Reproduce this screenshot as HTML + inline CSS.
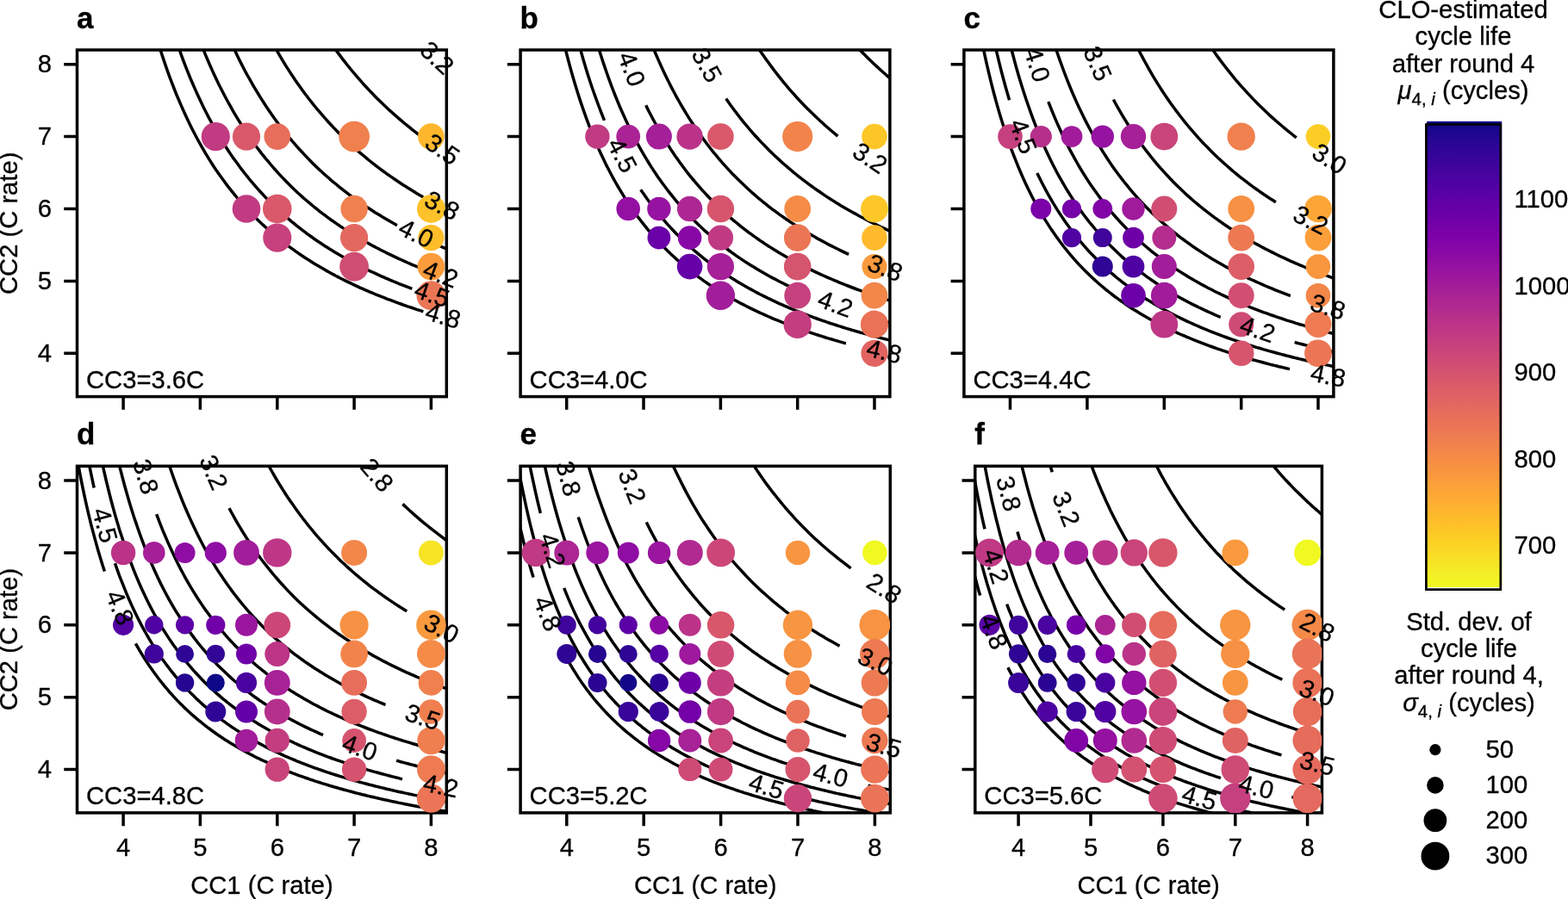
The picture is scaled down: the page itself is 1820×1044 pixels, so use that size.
<!DOCTYPE html>
<html lang="en"><head><meta charset="utf-8"><title>CLO-estimated cycle life after round 4</title>
<style>html,body{margin:0;padding:0;background:#fff}body{width:1820px;height:1044px;overflow:hidden}svg{display:block}text{font-family:"Liberation Sans",Arial,Helvetica,sans-serif;fill:#000;stroke:#000;stroke-width:.3px}.t{font-size:29.2px}.b{font-size:35px;font-weight:bold}.c{font-size:29.2px;text-anchor:middle}.l{fill:none;stroke:#000;stroke-width:3.5}.m{text-anchor:middle}.e{text-anchor:end}</style></head><body>
<svg width="1820" height="1044" viewBox="0 0 1820 1044">
<rect width="1820" height="1044" fill="#fff"/>
<defs><linearGradient id="pl" x1="0" y1="0" x2="0" y2="1"><stop offset="0" stop-color="#0d0887"/><stop offset="0.0312" stop-color="#220690"/><stop offset="0.0625" stop-color="#310597"/><stop offset="0.0938" stop-color="#3f049c"/><stop offset="0.125" stop-color="#4c02a1"/><stop offset="0.1562" stop-color="#5901a5"/><stop offset="0.1875" stop-color="#6600a7"/><stop offset="0.2188" stop-color="#7201a8"/><stop offset="0.25" stop-color="#7e03a8"/><stop offset="0.2812" stop-color="#8a09a5"/><stop offset="0.3125" stop-color="#9511a1"/><stop offset="0.3438" stop-color="#a01a9c"/><stop offset="0.375" stop-color="#aa2395"/><stop offset="0.4062" stop-color="#b32c8e"/><stop offset="0.4375" stop-color="#bc3587"/><stop offset="0.4688" stop-color="#c43e7f"/><stop offset="0.5" stop-color="#cc4778"/><stop offset="0.5312" stop-color="#d35171"/><stop offset="0.5625" stop-color="#da5a6a"/><stop offset="0.5938" stop-color="#e06363"/><stop offset="0.625" stop-color="#e66c5c"/><stop offset="0.6562" stop-color="#eb7655"/><stop offset="0.6875" stop-color="#f0804e"/><stop offset="0.7188" stop-color="#f58b47"/><stop offset="0.75" stop-color="#f89540"/><stop offset="0.7812" stop-color="#fba139"/><stop offset="0.8125" stop-color="#fdac33"/><stop offset="0.8438" stop-color="#feb82c"/><stop offset="0.875" stop-color="#fdc527"/><stop offset="0.9062" stop-color="#fcd225"/><stop offset="0.9375" stop-color="#f8df25"/><stop offset="0.9688" stop-color="#f4ed27"/><stop offset="1" stop-color="#f0f921"/></linearGradient>
<clipPath id="cpa"><rect x="89.5" y="58" width="428.8" height="402.6"/></clipPath>
<clipPath id="cpb"><rect x="604.1" y="58" width="428.8" height="402.6"/></clipPath>
<clipPath id="cpc"><rect x="1118.9" y="58" width="429" height="402.6"/></clipPath>
<clipPath id="cpd"><rect x="89.5" y="541.3" width="428.8" height="402.6"/></clipPath>
<clipPath id="cpe"><rect x="604.1" y="541.3" width="429.2" height="402.6"/></clipPath>
<clipPath id="cpf"><rect x="1131.8" y="541.3" width="402.6" height="402.6"/></clipPath>
</defs>
<g id="panel-a">
<path class="l" clip-path="url(#cpa)" d="M487.9,50.4 489.2,51.8M523.9,84.5 526.1,86.3M384.5,50.5 387.1,54.2 389.7,57.9 392.3,61.4 394.9,64.9 397.5,68.4 400.1,71.7 402.7,75.0 405.4,78.3 408.0,81.5 410.6,84.6 413.2,87.7 415.8,90.7 418.4,93.7 421.0,96.6 423.6,99.5 426.2,102.3 428.8,105.1 431.4,107.8 434.0,110.5 436.6,113.2 439.2,115.8 441.8,118.3 444.4,120.8 447.0,123.3 449.6,125.8 452.2,128.2 454.9,130.5 457.5,132.9 460.1,135.1 462.7,137.4 465.3,139.6 467.9,141.8 470.5,144.0 473.1,146.1 475.7,148.2 478.3,150.3 480.9,152.3 483.5,154.3 486.1,156.3 488.7,158.2 491.3,160.2 493.1,161.4M316.8,50.6 319.4,55.3 322.0,59.9 324.6,64.4 327.2,68.8 329.8,73.1 332.4,77.3 335.0,81.4 337.6,85.4 340.2,89.3 342.8,93.2 345.4,96.9 348.0,100.6 350.6,104.2 353.2,107.8 355.9,111.3 358.5,114.7 361.1,118.0 363.7,121.3 366.3,124.5 368.9,127.6 371.5,130.7 374.1,133.7 376.7,136.7 379.3,139.6 381.9,142.5 384.5,145.3 387.1,148.1 389.7,150.8 392.3,153.5 394.9,156.1 397.5,158.7 400.1,161.2 402.7,163.7 405.4,166.2 408.0,168.6 410.6,170.9 413.2,173.3 415.8,175.6 418.4,177.8 421.0,180.0 423.6,182.2 426.2,184.4 428.8,186.5 431.4,188.6 434.0,190.6 436.6,192.6 439.2,194.6 441.8,196.6 444.4,198.5 447.0,200.4 449.6,202.3 452.2,204.1 454.9,205.9 457.5,207.7 460.1,209.5 462.7,211.3 465.3,213.0 467.9,214.7 470.5,216.3 473.1,218.0 475.7,219.6 478.3,221.2 480.9,222.8 483.5,224.4 486.1,225.9 488.7,227.4 491.3,228.9M269.0,50.8 271.6,56.5 274.2,62.0 276.8,67.4 279.4,72.6 282.0,77.7 284.6,82.7 287.2,87.5 289.9,92.2 292.5,96.8 295.1,101.3 297.7,105.7 300.3,110.0 302.9,114.2 305.5,118.3 308.1,122.3 310.7,126.2 313.3,130.0 315.9,133.8 318.5,137.4 321.1,141.0 323.7,144.5 326.3,147.9 328.9,151.3 331.5,154.6 334.1,157.8 336.7,161.0 339.4,164.1 342.0,167.1 344.6,170.1 347.2,173.0 349.8,175.8 352.4,178.6 355.0,181.4 357.6,184.1 360.2,186.8 362.8,189.4 365.4,191.9 368.0,194.4 370.6,196.9 373.2,199.3 375.8,201.7 378.4,204.0 381.0,206.3 383.6,208.6 386.2,210.8 388.9,213.0 391.5,215.1 394.1,217.3 396.7,219.3 399.3,221.4 401.9,223.4 404.5,225.4 407.1,227.3 409.7,229.2 412.3,231.1 414.9,233.0 417.5,234.8 420.1,236.6 422.7,238.4 425.3,240.1 427.9,241.8 430.5,243.5 433.1,245.2 435.7,246.9 438.4,248.5 441.0,250.1 443.6,251.7 446.2,253.2 448.8,254.7 451.4,256.3 454.0,257.8 456.6,259.2 459.2,260.7 460.9,261.6M503.9,282.8 506.5,283.9 509.1,285.1 511.7,286.2 514.3,287.3 516.9,288.4 519.6,289.5 522.2,290.5 524.8,291.6 526.1,292.1M233.4,50.8 236.0,57.4 238.6,63.8 241.2,70.0 243.8,76.0 246.4,81.9 249.0,87.6 251.6,93.1 254.2,98.5 256.9,103.7 259.5,108.8 262.1,113.7 264.7,118.5 267.3,123.2 269.9,127.8 272.5,132.3 275.1,136.6 277.7,140.9 280.3,145.0 282.9,149.1 285.5,153.0 288.1,156.9 290.7,160.7 293.3,164.3 295.9,167.9 298.5,171.5 301.1,174.9 303.7,178.3 306.4,181.6 309.0,184.8 311.6,187.9 314.2,191.0 316.8,194.1 319.4,197.0 322.0,199.9 324.6,202.8 327.2,205.6 329.8,208.3 332.4,211.0 335.0,213.6 337.6,216.2 340.2,218.7 342.8,221.2 345.4,223.7 348.0,226.0 350.6,228.4 353.2,230.7 355.9,233.0 358.5,235.2 361.1,237.4 363.7,239.5 366.3,241.6 368.9,243.7 371.5,245.8 374.1,247.8 376.7,249.7 379.3,251.7 381.9,253.6 384.5,255.5 387.1,257.3 389.7,259.1 392.3,260.9 394.9,262.7 397.5,264.4 400.1,266.1 402.7,267.8 405.4,269.4 408.0,271.1 410.6,272.7 413.2,274.2 415.8,275.8 418.4,277.3 421.0,278.8 423.6,280.3 426.2,281.8 428.8,283.2 431.4,284.7 434.0,286.1 436.6,287.5 439.2,288.8 441.8,290.2 444.4,291.5 447.0,292.8 449.6,294.1 452.2,295.4 454.9,296.6 457.5,297.9 460.1,299.1 462.7,300.3 465.3,301.5 467.9,302.7 470.5,303.8 473.1,305.0 475.7,306.1 478.3,307.3 480.9,308.4 483.5,309.4 486.1,310.5 488.7,311.6M205.6,50.0 208.2,57.5 210.8,64.8 213.4,71.8 216.0,78.6 218.6,85.1 221.2,91.5 223.9,97.7 226.5,103.6 229.1,109.5 231.7,115.1 234.3,120.6 236.9,125.9 239.5,131.0 242.1,136.1 244.7,140.9 247.3,145.7 249.9,150.3 252.5,154.8 255.1,159.2 257.7,163.5 260.3,167.7 262.9,171.7 265.5,175.7 268.1,179.6 270.7,183.4 273.4,187.0 276.0,190.6 278.6,194.2 281.2,197.6 283.8,201.0 286.4,204.2 289.0,207.5 291.6,210.6 294.2,213.7 296.8,216.7 299.4,219.6 302.0,222.5 304.6,225.3 307.2,228.1 309.8,230.8 312.4,233.4 315.0,236.0 317.6,238.6 320.2,241.1 322.9,243.5 325.5,245.9 328.1,248.3 330.7,250.6 333.3,252.9 335.9,255.1 338.5,257.3 341.1,259.4 343.7,261.6 346.3,263.6 348.9,265.7 351.5,267.7 354.1,269.6 356.7,271.6 359.3,273.5 361.9,275.3 364.5,277.2 367.1,279.0 369.7,280.7 372.4,282.5 375.0,284.2 377.6,285.9 380.2,287.5 382.8,289.2 385.4,290.8 388.0,292.4 390.6,293.9 393.2,295.5 395.8,297.0 398.4,298.5 401.0,299.9 403.6,301.4 406.2,302.8 408.8,304.2 411.4,305.6 414.0,307.0 416.6,308.3 419.2,309.6 421.9,310.9 424.5,312.2 427.1,313.5 429.7,314.8 432.3,316.0 434.9,317.2 437.5,318.4 440.1,319.6 442.7,320.8 445.3,321.9 447.9,323.1 450.5,324.2 453.1,325.3 455.7,326.4 458.3,327.5 460.9,328.5 463.5,329.6 466.1,330.6 468.7,331.6 471.4,332.7 474.0,333.7 476.6,334.7 478.3,335.3M523.5,350.6 526.1,351.4M183.9,50.6 186.5,58.9 189.1,66.9 191.7,74.6 194.3,82.1 196.9,89.3 199.5,96.2 202.1,102.9 204.7,109.5 207.4,115.8 210.0,121.9 212.6,127.8 215.2,133.5 217.8,139.0 220.4,144.4 223.0,149.7 225.6,154.8 228.2,159.7 230.8,164.5 233.4,169.2 236.0,173.7 238.6,178.1 241.2,182.4 243.8,186.6 246.4,190.7 249.0,194.7 251.6,198.6 254.2,202.3 256.9,206.0 259.5,209.6 262.1,213.1 264.7,216.6 267.3,219.9 269.9,223.2 272.5,226.4 275.1,229.5 277.7,232.6 280.3,235.5 282.9,238.5 285.5,241.3 288.1,244.1 290.7,246.9 293.3,249.5 295.9,252.2 298.5,254.7 301.1,257.3 303.7,259.7 306.4,262.1 309.0,264.5 311.6,266.8 314.2,269.1 316.8,271.4 319.4,273.6 322.0,275.7 324.6,277.8 327.2,279.9 329.8,281.9 332.4,283.9 335.0,285.9 337.6,287.8 340.2,289.7 342.8,291.6 345.4,293.4 348.0,295.2 350.6,297.0 353.2,298.7 355.9,300.4 358.5,302.1 361.1,303.7 363.7,305.4 366.3,307.0 368.9,308.5 371.5,310.1 374.1,311.6 376.7,313.1 379.3,314.6 381.9,316.0 384.5,317.5 387.1,318.9 389.7,320.3 392.3,321.6 394.9,323.0 397.5,324.3 400.1,325.6 402.7,326.9 405.4,328.2 408.0,329.4 410.6,330.7 413.2,331.9 415.8,333.1 418.4,334.3 421.0,335.4 423.6,336.6 426.2,337.7 428.8,338.8 431.4,339.9 434.0,341.0 436.6,342.1 439.2,343.1 441.8,344.2 444.4,345.2 447.0,346.2 449.6,347.3 452.2,348.2 454.9,349.2 457.5,350.2 460.1,351.2 462.7,352.1 465.3,353.0 467.9,354.0 470.5,354.9 473.1,355.8 475.7,356.6 478.3,357.5 480.9,358.4 483.5,359.3 486.1,360.1 488.7,360.9 491.3,361.8"/>
<rect class="l" x="89.5" y="58" width="428.8" height="402.6"/>
<g clip-path="url(#cpa)"><circle cx="250.3" cy="158.6" r="16.6" fill="#c13b82"/><circle cx="286.0" cy="158.6" r="16.1" fill="#d9586a"/><circle cx="321.8" cy="158.6" r="15.3" fill="#e76e5b"/><circle cx="411.1" cy="158.6" r="17.9" fill="#f0804e"/><circle cx="500.4" cy="158.6" r="15.3" fill="#feb72d"/><circle cx="286.0" cy="242.5" r="16.3" fill="#c13b82"/><circle cx="321.8" cy="242.5" r="16.8" fill="#d9586a"/><circle cx="411.1" cy="242.5" r="15.7" fill="#f0804e"/><circle cx="500.4" cy="242.5" r="16.4" fill="#fdc229"/><circle cx="321.8" cy="276.1" r="16.6" fill="#c6417d"/><circle cx="411.1" cy="276.1" r="16.1" fill="#e3685f"/><circle cx="500.4" cy="276.1" r="15.1" fill="#febe2a"/><circle cx="411.1" cy="309.6" r="16.9" fill="#d04d73"/><circle cx="500.4" cy="309.6" r="15.8" fill="#fa9c3c"/><circle cx="500.4" cy="343.2" r="16.9" fill="#eb7655"/></g>
<g><text class="c" transform="translate(506.1,68.5) rotate(43.2)" y="8.2">3.2</text><text class="c" transform="translate(512.6,174.9) rotate(34.1)" y="8.2">3.5</text><text class="c" transform="translate(512.2,240.2) rotate(28.0)" y="8.2">3.8</text><text class="c" transform="translate(482.2,272.7) rotate(26.2)" y="8.2">4.0</text><text class="c" transform="translate(510.9,320.1) rotate(20.7)" y="8.2">4.2</text><text class="c" transform="translate(500.9,343.3) rotate(18.8)" y="8.2">4.5</text><text class="c" transform="translate(513.9,368.5) rotate(16.5)" y="8.2">4.8</text></g>
<path class="l" d="M143.1,460.6v15.25M89.5,410.3h-15.25M232.4,460.6v15.25M89.5,326.4h-15.25M321.8,460.6v15.25M89.5,242.5h-15.25M411.1,460.6v15.25M89.5,158.6h-15.25M500.4,460.6v15.25M89.5,74.8h-15.25"/>
<text class="t e" x="59.9" y="419.8">4</text>
<text class="t e" x="59.9" y="336.0">5</text>
<text class="t e" x="59.9" y="252.1">6</text>
<text class="t e" x="59.9" y="168.2">7</text>
<text class="t e" x="59.9" y="84.3">8</text>
<text class="t m" transform="translate(20.4,259.3) rotate(-90)">CC2 (C rate)</text>
<text class="b" x="89.0" y="33.0">a</text>
<text class="t" x="100.0" y="450.5">CC3=3.6C</text>
</g>
<g id="panel-b">
<path class="l" clip-path="url(#cpb)" d="M990.7,50.3 993.3,53.1 995.9,55.8 998.5,58.5 1001.2,61.2 1003.8,63.8 1006.4,66.4 1009.0,69.0 1011.6,71.5 1014.2,74.0 1016.8,76.4 1019.4,78.8 1022.0,81.2 1024.6,83.5 1027.2,85.8 1029.8,88.1 1032.4,90.3 1035.0,92.5 1037.6,94.7 1040.2,96.9 1040.7,97.2M876.5,50.3 879.1,54.3 881.7,58.2 884.3,62.0 887.0,65.8 889.6,69.5 892.2,73.1 894.8,76.6 897.4,80.1 900.0,83.5 902.6,86.9 905.2,90.2 907.8,93.4 910.4,96.6 913.0,99.7 915.6,102.8 918.2,105.8 920.8,108.7 923.4,111.6 926.0,114.5 928.6,117.3 931.2,120.0 933.8,122.7 936.5,125.4 939.1,128.0 941.7,130.6 944.3,133.1 946.9,135.6 949.5,138.1 952.1,140.5 954.7,142.8 957.3,145.2 959.9,147.5 962.5,149.8 965.1,152.0 967.7,154.2 970.3,156.3 972.5,158.1M842.7,114.6 845.3,118.3 847.9,122.0 850.5,125.5 853.1,129.0 855.7,132.4 858.3,135.8 860.9,139.1 863.5,142.3 866.1,145.4 868.7,148.5 871.3,151.6 873.9,154.6 876.5,157.5 879.1,160.3 881.7,163.1 884.3,165.9 887.0,168.6 889.6,171.3 892.2,173.9 894.8,176.5 897.4,179.0 900.0,181.5 902.6,183.9 905.2,186.3 907.8,188.7 910.4,191.0 913.0,193.2 915.6,195.5 918.2,197.7 920.8,199.9 923.4,202.0 926.0,204.1 928.6,206.1 931.2,208.2 933.8,210.2 936.5,212.1 939.1,214.1 941.7,216.0 944.3,217.9 946.9,219.7 949.5,221.5 952.1,223.3 954.7,225.1 957.3,226.9 959.9,228.6 962.5,230.3 965.1,231.9 967.7,233.6 970.3,235.2 972.9,236.8 975.5,238.4 978.1,239.9 980.7,241.5 983.3,243.0 986.0,244.5 988.6,246.0 991.2,247.4 993.8,248.8 996.4,250.3 999.0,251.7 1001.6,253.0 1004.2,254.4 1006.8,255.7 1009.4,257.1 1012.0,258.4 1014.6,259.7 1017.2,260.9 1019.8,262.2 1022.4,263.5 1025.0,264.7 1027.6,265.9 1030.2,267.1 1032.8,268.3 1035.5,269.5 1038.1,270.6 1040.7,271.8M756.3,50.9 758.9,57.3 761.5,63.5 764.1,69.4 766.7,75.3 769.3,80.9 771.9,86.4 774.5,91.8 777.1,97.0 779.7,102.1 782.3,107.0 784.9,111.8 787.5,116.5 790.1,121.1 792.7,125.5 795.3,129.9 797.9,134.1 800.5,138.3 803.1,142.3 805.8,146.3 808.4,150.1 811.0,153.9 813.6,157.6 816.2,161.2 818.8,164.7 821.4,168.2 824.0,171.5 826.6,174.8 829.2,178.1 831.8,181.2 834.4,184.3 837.0,187.4 839.6,190.3 842.2,193.2 844.8,196.1 847.4,198.9 850.0,201.7 852.6,204.3 855.3,207.0 857.9,209.6 860.5,212.1 863.1,214.6 865.7,217.1 868.3,219.5 870.9,221.8 873.5,224.2 876.1,226.4 878.7,228.7 881.3,230.9 883.9,233.0 886.5,235.2 889.1,237.2 891.7,239.3 894.3,241.3 896.9,243.3 899.5,245.2 902.2,247.2 904.8,249.1 907.4,250.9 910.0,252.7 912.6,254.5 915.2,256.3 917.8,258.1 920.4,259.8 923.0,261.5 925.6,263.1 928.2,264.8 930.8,266.4 933.4,268.0 936.0,269.6 938.6,271.1 941.2,272.6 943.8,274.1 946.4,275.6 949.0,277.1 951.7,278.5 954.3,279.9 956.9,281.3 959.5,282.7 962.1,284.1 964.7,285.4 967.3,286.7 969.9,288.0 972.5,289.3 975.1,290.6 977.7,291.9 980.3,293.1 982.9,294.3 985.1,295.3M749.7,122.3 752.3,127.6 755.0,132.7 757.6,137.7 760.2,142.5 762.8,147.3 765.4,151.8 768.0,156.3 770.6,160.7 773.2,164.9 775.8,169.0 778.4,173.1 781.0,177.0 783.6,180.9 786.2,184.6 788.8,188.3 791.4,191.8 794.0,195.3 796.6,198.7 799.2,202.1 801.8,205.3 804.5,208.5 807.1,211.6 809.7,214.7 812.3,217.7 814.9,220.6 817.5,223.4 820.1,226.2 822.7,229.0 825.3,231.7 827.9,234.3 830.5,236.9 833.1,239.4 835.7,241.9 838.3,244.3 840.9,246.7 843.5,249.1 846.1,251.4 848.7,253.6 851.3,255.8 854.0,258.0 856.6,260.2 859.2,262.3 861.8,264.3 864.4,266.3 867.0,268.3 869.6,270.3 872.2,272.2 874.8,274.1 877.4,275.9 880.0,277.8 882.6,279.6 885.2,281.3 887.8,283.1 890.4,284.8 893.0,286.4 895.6,288.1 898.2,289.7 900.8,291.3 903.5,292.9 906.1,294.5 908.7,296.0 911.3,297.5 913.9,299.0 916.5,300.4 919.1,301.9 921.7,303.3 924.3,304.7 926.9,306.1 929.5,307.4 932.1,308.8 934.7,310.1 937.3,311.4 939.9,312.7 942.5,313.9 945.1,315.2 947.7,316.4 950.3,317.6 953.0,318.8 955.6,320.0 958.2,321.1 960.8,322.3 963.4,323.4 966.0,324.5 968.6,325.7 971.2,326.7 973.8,327.8 976.4,328.9 979.0,329.9 981.6,331.0 984.2,332.0 986.8,333.0 989.4,334.0 992.0,335.0 994.6,336.0 997.2,336.9 999.8,337.9 1002.5,338.8 1005.1,339.7 1007.7,340.6 1010.3,341.5 1012.9,342.4 1015.5,343.3 1018.1,344.2 1020.7,345.1 1023.3,345.9 1025.9,346.8 1028.5,347.6 1031.1,348.4 1033.7,349.2 1036.3,350.0 1038.9,350.8 1040.7,351.4M693.3,50.8 695.9,59.3 698.5,67.5 701.1,75.4 703.7,83.0 706.3,90.4 708.9,97.5 711.5,104.4 714.1,111.0 716.7,117.4 719.3,123.7 722.0,129.7 724.6,135.5 727.2,141.2 729.8,146.7 732.4,152.0 735.0,157.1 737.6,162.2 740.2,167.0 742.8,171.8 745.4,176.4 748.0,180.9 750.6,185.2 753.2,189.5 755.8,193.6 758.4,197.6 761.0,201.5 763.6,205.4 766.2,209.1 768.8,212.7 771.5,216.3 774.1,219.7 776.7,223.1 779.3,226.4 781.9,229.7 784.5,232.8 787.1,235.9 789.7,238.9 792.3,241.8 794.9,244.7 797.5,247.5 800.1,250.3 802.7,253.0 805.3,255.6 807.9,258.2 810.5,260.8 813.1,263.2 815.7,265.7 818.3,268.1 821.0,270.4 823.6,272.7 826.2,274.9 828.8,277.1 831.4,279.3 834.0,281.4 836.6,283.5 839.2,285.5 841.8,287.6 844.4,289.5 847.0,291.5 849.6,293.4 852.2,295.2 854.8,297.1 857.4,298.9 860.0,300.6 862.6,302.4 865.2,304.1 867.8,305.8 870.5,307.4 873.1,309.0 875.7,310.6 878.3,312.2 880.9,313.8 883.5,315.3 886.1,316.8 888.7,318.3 891.3,319.7 893.9,321.2 896.5,322.6 899.1,323.9 901.7,325.3 904.3,326.7 906.9,328.0 909.5,329.3 912.1,330.6 914.7,331.9 917.3,333.1 920.0,334.3 922.6,335.5 925.2,336.7 926.9,337.5M1012.0,368.8 1014.6,369.6 1017.2,370.4 1019.8,371.1 1022.4,371.9 1025.0,372.6 1027.6,373.3 1030.2,374.1 1032.8,374.8 1035.5,375.5 1038.1,376.2 1040.7,376.9M672.0,51.1 674.6,60.6 677.2,69.7 679.8,78.5 682.4,86.9 685.0,95.0 687.6,102.8 690.3,110.3 692.9,117.5 695.5,124.5 698.1,131.3 700.7,137.8 701.5,139.9M743.7,220.2 746.3,224.1 748.9,227.8 751.5,231.5 754.1,235.0 756.7,238.5 759.3,241.9 761.9,245.2 764.5,248.4 767.1,251.6 769.7,254.6 772.3,257.6 774.9,260.6 777.5,263.4 780.1,266.2 782.7,269.0 785.3,271.7 788.0,274.3 790.6,276.9 793.2,279.4 795.8,281.8 798.4,284.2 801.0,286.6 803.6,288.9 806.2,291.2 808.8,293.4 811.4,295.6 814.0,297.7 816.6,299.8 819.2,301.8 821.8,303.9 824.4,305.8 827.0,307.8 829.6,309.7 832.2,311.5 834.8,313.4 837.5,315.2 840.1,316.9 842.7,318.7 845.3,320.4 847.9,322.1 850.5,323.7 853.1,325.3 855.7,326.9 858.3,328.5 860.9,330.0 863.5,331.5 866.1,333.0 868.7,334.5 871.3,335.9 873.9,337.3 876.5,338.7 879.1,340.1 881.7,341.5 884.3,342.8 887.0,344.1 889.6,345.4 892.2,346.7 894.8,347.9 897.4,349.2 900.0,350.4 902.6,351.6 905.2,352.8 907.8,353.9 910.4,355.1 913.0,356.2 915.6,357.3 918.2,358.4 920.8,359.5 923.4,360.6 926.0,361.6 928.6,362.6 931.2,363.7 933.8,364.7 936.5,365.7 939.1,366.7 941.7,367.6 944.3,368.6 946.9,369.5 949.5,370.5 952.1,371.4 954.7,372.3 957.3,373.2 959.9,374.1 962.5,375.0 965.1,375.8 967.7,376.7 970.3,377.5 972.9,378.4 975.5,379.2 978.1,380.0 980.7,380.8 983.3,381.6 986.0,382.4 988.6,383.2 991.2,383.9 993.8,384.7 996.4,385.4 999.0,386.2 1001.6,386.9 1004.2,387.6 1006.8,388.3 1009.4,389.0 1012.0,389.7 1014.6,390.4 1017.2,391.1 1019.8,391.8 1022.4,392.5 1025.0,393.1 1027.6,393.8 1030.2,394.4 1032.8,395.1 1035.5,395.7 1038.1,396.3 1040.7,396.9M654.6,50.6 657.3,61.0 659.9,71.0 662.5,80.6 665.1,89.8 667.7,98.6 670.3,107.0 672.9,115.1 675.5,122.9 678.1,130.4 680.7,137.7 683.3,144.6 685.9,151.3 688.5,157.8 691.1,164.1 693.7,170.1 696.3,176.0 698.9,181.6 701.5,187.1 704.1,192.4 706.8,197.5 709.4,202.5 712.0,207.3 714.6,212.0 717.2,216.5 719.8,220.9 722.4,225.2 725.0,229.4 727.6,233.4 730.2,237.4 732.8,241.2 735.4,244.9 738.0,248.6 740.6,252.1 743.2,255.5 745.8,258.9 748.4,262.2 751.0,265.4 753.6,268.5 756.3,271.5 758.9,274.5 761.5,277.4 764.1,280.2 766.7,283.0 769.3,285.7 771.9,288.3 774.5,290.9 777.1,293.4 779.7,295.9 782.3,298.3 784.9,300.7 787.5,303.0 790.1,305.3 792.7,307.5 795.3,309.7 797.9,311.8 800.5,313.9 803.1,315.9 805.8,317.9 808.4,319.9 811.0,321.8 813.6,323.7 816.2,325.6 818.8,327.4 821.4,329.2 824.0,331.0 826.6,332.7 829.2,334.4 831.8,336.1 834.4,337.7 837.0,339.3 839.6,340.9 842.2,342.4 844.8,343.9 847.4,345.4 850.0,346.9 852.6,348.4 855.3,349.8 857.9,351.2 860.5,352.6 863.1,353.9 865.7,355.3 868.3,356.6 870.9,357.9 873.5,359.1 876.1,360.4 878.7,361.6 881.3,362.8 883.9,364.0 886.5,365.2 889.1,366.4 891.7,367.5 894.3,368.6 896.9,369.8 899.5,370.9 902.2,371.9 904.8,373.0 907.4,374.0 910.0,375.1 912.6,376.1 915.2,377.1 917.8,378.1 920.4,379.1 923.0,380.0 925.6,381.0 928.2,381.9 930.8,382.8 933.4,383.8 936.0,384.7 938.6,385.6 941.2,386.4 943.8,387.3 946.4,388.2 949.0,389.0 951.7,389.8 954.3,390.7 956.9,391.5 959.5,392.3 962.1,393.1 964.7,393.8 967.3,394.6 969.9,395.4 972.5,396.1 975.1,396.9 977.7,397.6 980.3,398.4 982.0,398.8"/>
<rect class="l" x="604.1" y="58" width="428.8" height="402.6"/>
<g clip-path="url(#cpb)"><circle cx="693.4" cy="158.6" r="14.2" fill="#c13b82"/><circle cx="729.2" cy="158.6" r="13.9" fill="#aa2395"/><circle cx="764.9" cy="158.6" r="15" fill="#a51f99"/><circle cx="800.6" cy="158.6" r="15.2" fill="#ba3388"/><circle cx="836.4" cy="158.6" r="15.3" fill="#d9586a"/><circle cx="925.7" cy="158.6" r="17.6" fill="#f2844b"/><circle cx="1015.0" cy="158.6" r="14.8" fill="#fdc627"/><circle cx="729.2" cy="242.5" r="13.8" fill="#9410a2"/><circle cx="764.9" cy="242.5" r="13.7" fill="#9613a1"/><circle cx="800.6" cy="242.5" r="14.7" fill="#ad2793"/><circle cx="836.4" cy="242.5" r="15.7" fill="#d6556d"/><circle cx="925.7" cy="242.5" r="15.4" fill="#f58c46"/><circle cx="1015.0" cy="242.5" r="15.9" fill="#fdc827"/><circle cx="764.9" cy="276.1" r="13.4" fill="#6a00a8"/><circle cx="800.6" cy="276.1" r="13.8" fill="#8808a6"/><circle cx="836.4" cy="276.1" r="14.7" fill="#c03a83"/><circle cx="925.7" cy="276.1" r="15.8" fill="#eb7655"/><circle cx="1015.0" cy="276.1" r="14.8" fill="#feba2c"/><circle cx="800.6" cy="309.6" r="14.8" fill="#6600a7"/><circle cx="836.4" cy="309.6" r="15.6" fill="#a62098"/><circle cx="925.7" cy="309.6" r="15.8" fill="#d5546e"/><circle cx="1015.0" cy="309.6" r="14.5" fill="#f99a3e"/><circle cx="836.4" cy="343.2" r="16.7" fill="#a21d9a"/><circle cx="925.7" cy="343.2" r="15.4" fill="#c5407e"/><circle cx="1015.0" cy="343.2" r="15.4" fill="#f3874a"/><circle cx="925.7" cy="376.7" r="16.2" fill="#c43e7f"/><circle cx="1015.0" cy="376.7" r="16.1" fill="#e97257"/><circle cx="1015.0" cy="410.3" r="15.6" fill="#e16462"/></g>
<g><text class="c" transform="translate(1009.0,185.0) rotate(33.7)" y="8.2">3.2</text><text class="c" transform="translate(818.8,76.4) rotate(60.6)" y="8.2">3.5</text><text class="c" transform="translate(1026.8,312.7) rotate(21.3)" y="8.2">3.8</text><text class="c" transform="translate(731.5,80.8) rotate(68.4)" y="8.2">4.0</text><text class="c" transform="translate(969.0,354.6) rotate(20.1)" y="8.2">4.2</text><text class="c" transform="translate(720.6,181.2) rotate(62.5)" y="8.2">4.5</text><text class="c" transform="translate(1025.9,409.8) rotate(13.2)" y="8.2">4.8</text></g>
<path class="l" d="M657.7,460.6v15.25M604.1,410.3h-15.25M747.0,460.6v15.25M604.1,326.4h-15.25M836.4,460.6v15.25M604.1,242.5h-15.25M925.7,460.6v15.25M604.1,158.6h-15.25M1015.0,460.6v15.25M604.1,74.8h-15.25"/>
<text class="b" x="603.6" y="33.0">b</text>
<text class="t" x="614.6" y="450.5">CC3=4.0C</text>
</g>
<g id="panel-c">
<path class="l" clip-path="url(#cpc)" d="M1402.8,50.6 1405.4,54.5 1408.0,58.3 1410.6,61.9 1413.2,65.6 1415.8,69.1 1418.4,72.6 1421.0,76.0 1423.6,79.4 1426.2,82.7 1428.8,85.9 1431.4,89.1 1434.0,92.3 1436.6,95.3 1439.2,98.3 1441.9,101.3 1444.5,104.2 1447.1,107.1 1449.7,109.9 1452.3,112.6 1454.9,115.4 1457.5,118.0 1460.1,120.7 1462.7,123.3 1465.3,125.8 1467.9,128.3 1470.5,130.8 1473.1,133.2 1475.7,135.6 1478.3,137.9 1480.9,140.2 1483.6,142.5 1486.2,144.8 1488.8,147.0 1491.4,149.2 1494.0,151.3 1496.6,153.4 1499.2,155.5 1501.8,157.6 1504.4,159.6 1504.8,159.9M1318.0,50.8 1320.6,56.0 1323.3,61.2 1325.9,66.1 1328.5,71.0 1331.1,75.7 1333.7,80.4 1336.3,84.9 1338.9,89.3 1341.5,93.6 1344.1,97.8 1346.7,101.9 1349.3,106.0 1351.9,109.9 1354.5,113.7 1357.1,117.5 1359.7,121.2 1362.4,124.8 1365.0,128.4 1367.6,131.8 1370.2,135.2 1372.8,138.5 1375.4,141.8 1378.0,145.0 1380.6,148.1 1383.2,151.2 1385.8,154.2 1388.4,157.2 1391.0,160.1 1393.6,162.9 1396.2,165.7 1398.8,168.4 1401.5,171.1 1404.1,173.8 1406.7,176.4 1409.3,178.9 1411.9,181.4 1414.5,183.9 1417.1,186.3 1419.7,188.7 1422.3,191.0 1424.9,193.3 1427.5,195.6 1430.1,197.8 1432.7,200.0 1435.3,202.1 1437.9,204.3 1440.5,206.3 1443.2,208.4 1445.8,210.4 1448.4,212.4 1451.0,214.3 1453.6,216.3 1456.2,218.2 1458.8,220.0 1461.4,221.9 1464.0,223.7 1466.6,225.5 1469.2,227.2 1471.8,229.0 1474.4,230.7 1477.0,232.3 1479.6,234.0 1480.9,234.8M1292.4,115.7 1295.0,120.5 1297.6,125.2 1300.2,129.7 1302.8,134.1 1305.4,138.4 1308.1,142.7 1310.7,146.8 1313.3,150.8 1315.9,154.7 1318.5,158.5 1321.1,162.2 1323.7,165.9 1326.3,169.5 1328.9,173.0 1331.5,176.4 1334.1,179.7 1336.7,183.0 1339.3,186.2 1341.9,189.3 1344.5,192.4 1347.1,195.4 1349.8,198.3 1352.4,201.2 1355.0,204.0 1357.6,206.8 1360.2,209.5 1362.8,212.2 1365.4,214.8 1368.0,217.3 1370.6,219.8 1373.2,222.3 1375.8,224.7 1378.4,227.1 1381.0,229.4 1383.6,231.7 1386.2,234.0 1388.9,236.2 1391.5,238.4 1394.1,240.5 1396.7,242.6 1399.3,244.6 1401.9,246.7 1404.5,248.7 1407.1,250.6 1409.7,252.6 1412.3,254.4 1414.9,256.3 1417.5,258.1 1420.1,260.0 1422.7,261.7 1425.3,263.5 1427.9,265.2 1430.6,266.9 1433.2,268.6 1435.8,270.2 1438.4,271.8 1441.0,273.4 1443.6,275.0 1446.2,276.5 1448.8,278.1 1451.4,279.6 1454.0,281.0 1456.6,282.5 1459.2,283.9 1461.8,285.3 1464.4,286.7 1467.0,288.1 1469.7,289.5 1472.3,290.8 1474.9,292.1 1477.5,293.4 1480.1,294.7 1482.7,296.0 1485.3,297.3 1487.9,298.5 1490.5,299.7 1493.1,300.9 1495.7,302.1 1498.3,303.3 1500.9,304.4 1503.5,305.6 1506.1,306.7 1508.8,307.8 1511.4,308.9 1514.0,310.0 1516.6,311.1 1519.2,312.1 1521.8,313.2 1524.4,314.2 1527.0,315.2 1529.6,316.2 1532.2,317.2 1534.8,318.2 1537.4,319.2 1540.0,320.2 1542.6,321.1 1545.2,322.1 1547.8,323.0 1550.5,323.9 1553.1,324.8 1555.7,325.7M1223.8,51.1 1226.4,59.0 1229.0,66.6 1231.6,73.9 1234.2,81.0 1236.8,87.9 1239.4,94.6 1242.0,101.0 1244.6,107.2 1247.2,113.3 1249.8,119.1 1252.4,124.8 1255.1,130.3 1257.7,135.7 1260.3,140.9 1262.9,145.9 1265.5,150.8 1268.1,155.6 1270.7,160.3 1273.3,164.8 1275.9,169.2 1278.5,173.5 1281.1,177.7 1283.7,181.7 1286.3,185.7 1288.9,189.6 1291.5,193.4 1294.1,197.1 1296.8,200.7 1299.4,204.2 1302.0,207.6 1304.6,211.0 1307.2,214.2 1309.8,217.4 1312.4,220.6 1315.0,223.6 1317.6,226.6 1320.2,229.6 1322.8,232.4 1325.4,235.2 1328.0,238.0 1330.6,240.7 1333.2,243.3 1335.9,245.9 1338.5,248.4 1341.1,250.9 1343.7,253.3 1346.3,255.7 1348.9,258.1 1351.5,260.4 1354.1,262.6 1356.7,264.8 1359.3,267.0 1361.9,269.1 1364.5,271.2 1367.1,273.3 1369.7,275.3 1372.3,277.3 1375.0,279.2 1377.6,281.1 1380.2,283.0 1382.8,284.9 1385.4,286.7 1388.0,288.5 1390.6,290.2 1393.2,291.9 1395.8,293.6 1398.4,295.3 1401.0,296.9 1403.6,298.6 1406.2,300.2 1408.8,301.7 1411.4,303.3 1414.0,304.8 1416.7,306.3 1419.3,307.7 1421.9,309.2 1424.5,310.6 1427.1,312.0 1429.7,313.4 1432.3,314.8 1434.9,316.1 1437.5,317.4 1440.1,318.7 1442.7,320.0 1445.3,321.3 1447.9,322.6 1450.5,323.8 1453.1,325.0 1455.8,326.2 1458.4,327.4 1461.0,328.5 1463.6,329.7 1466.2,330.8 1468.8,332.0 1471.4,333.1 1474.0,334.2 1476.6,335.2 1479.2,336.3 1481.8,337.3 1484.4,338.4 1487.0,339.4 1489.6,340.4 1492.2,341.4 1494.8,342.4 1497.5,343.4 1497.9,343.5M1216.8,118.1 1219.4,124.7 1222.0,131.2 1224.6,137.4 1227.2,143.4 1229.9,149.3 1232.5,154.9 1235.1,160.4 1237.7,165.7 1240.3,170.9 1242.9,175.9 1245.5,180.7 1248.1,185.4 1250.7,190.0 1253.3,194.5 1255.9,198.8 1258.5,203.0 1261.1,207.1 1263.7,211.1 1266.3,215.0 1269.0,218.8 1271.6,222.5 1274.2,226.1 1276.8,229.6 1279.4,233.1 1282.0,236.4 1284.6,239.7 1287.2,242.9 1289.8,246.0 1292.4,249.0 1295.0,252.0 1297.6,254.9 1300.2,257.7 1302.8,260.5 1305.4,263.2 1308.1,265.9 1310.7,268.5 1313.3,271.0 1315.9,273.5 1318.5,276.0 1321.1,278.4 1323.7,280.7 1326.3,283.0 1328.9,285.3 1331.5,287.5 1334.1,289.6 1336.7,291.8 1339.3,293.9 1341.9,295.9 1344.5,297.9 1347.1,299.9 1349.8,301.8 1352.4,303.7 1355.0,305.6 1357.6,307.4 1360.2,309.2 1362.8,311.0 1365.4,312.7 1368.0,314.4 1370.6,316.1 1373.2,317.7 1375.8,319.3 1378.4,320.9 1381.0,322.5 1383.6,324.0 1386.2,325.6 1388.9,327.0 1391.5,328.5 1394.1,330.0 1396.7,331.4 1399.3,332.8 1401.9,334.2 1404.5,335.5 1407.1,336.8 1409.7,338.2 1412.3,339.5 1414.9,340.7 1417.5,342.0 1420.1,343.2 1422.7,344.4 1425.3,345.6 1427.9,346.8 1430.6,348.0 1433.2,349.2 1435.8,350.3 1438.4,351.4 1441.0,352.5 1443.6,353.6 1446.2,354.7 1448.8,355.7 1451.4,356.8 1454.0,357.8 1456.6,358.8 1459.2,359.8 1461.8,360.8 1464.4,361.8 1467.0,362.8 1469.7,363.7 1472.3,364.7 1474.9,365.6 1477.5,366.5 1480.1,367.4 1482.7,368.3 1485.3,369.2 1487.9,370.0 1490.5,370.9 1493.1,371.8 1495.7,372.6 1498.3,373.4 1500.9,374.2 1503.5,375.1 1506.1,375.9 1508.8,376.7 1511.4,377.4 1514.0,378.2 1516.6,379.0 1519.2,379.7 1521.8,380.5 1524.4,381.2 1527.0,381.9 1529.6,382.7 1532.2,383.4 1534.8,384.1 1537.4,384.8 1540.0,385.5 1542.6,386.1 1545.2,386.8 1547.8,387.5 1550.5,388.1 1553.1,388.8 1555.7,389.4M1172.5,51.2 1175.1,61.5 1177.7,71.3 1180.3,80.7 1182.9,89.7 1185.5,98.3 1188.2,106.7 1190.8,114.7 1193.4,122.3 1196.0,129.7 1198.6,136.9 1201.2,143.7 1203.8,150.4 1206.4,156.8 1209.0,163.0 1211.6,168.9 1214.2,174.7 1216.8,180.3 1219.4,185.7 1222.0,191.0 1224.6,196.0 1227.2,201.0 1229.9,205.8 1232.5,210.4 1235.1,214.9 1237.7,219.3 1240.3,223.5 1242.9,227.6 1245.5,231.7 1248.1,235.6 1250.7,239.4 1253.3,243.1 1255.9,246.7 1258.5,250.2 1261.1,253.6 1263.7,257.0 1266.3,260.2 1269.0,263.4 1271.6,266.5 1274.2,269.5 1276.8,272.5 1279.4,275.3 1282.0,278.2 1284.6,280.9 1287.2,283.6 1289.8,286.2 1292.4,288.8 1295.0,291.3 1297.6,293.8 1300.2,296.2 1302.8,298.6 1305.4,300.9 1308.1,303.1 1310.7,305.4 1313.3,307.5 1315.9,309.6 1318.5,311.7 1321.1,313.8 1323.7,315.8 1326.3,317.7 1328.9,319.7 1331.5,321.6 1334.1,323.4 1336.7,325.2 1339.3,327.0 1341.9,328.8 1344.5,330.5 1347.1,332.2 1349.8,333.9 1352.4,335.5 1355.0,337.1 1357.6,338.7 1360.2,340.2 1362.8,341.8 1365.4,343.3 1368.0,344.7 1370.6,346.2 1373.2,347.6 1375.8,349.0 1378.4,350.4 1381.0,351.7 1383.6,353.1 1386.2,354.4 1388.9,355.7 1391.5,357.0 1394.1,358.2 1396.7,359.4 1399.3,360.7 1401.9,361.9 1404.5,363.0 1407.1,364.2 1409.7,365.3 1412.3,366.5 1414.9,367.6 1416.7,368.3M1502.7,397.4 1505.3,398.2 1507.9,398.9 1510.5,399.5 1513.1,400.2 1515.7,400.9 1518.3,401.6 1520.9,402.2 1523.5,402.9 1526.1,403.5 1528.7,404.2 1531.3,404.8 1533.9,405.4 1536.6,406.1 1539.2,406.7 1541.8,407.3 1544.4,407.9 1547.0,408.5 1549.6,409.1 1552.2,409.6 1554.8,410.2 1555.7,410.4M1154.7,51.0 1157.3,62.3 1159.9,73.1 1162.5,83.5 1165.1,93.3 1167.7,102.8 1170.3,111.8 1171.6,116.2M1203.8,200.9 1206.4,206.3 1209.0,211.5 1211.6,216.5 1214.2,221.4 1216.8,226.1 1219.4,230.7 1222.0,235.1 1224.6,239.4 1227.2,243.6 1229.9,247.7 1232.5,251.6 1235.1,255.5 1237.7,259.2 1240.3,262.8 1242.9,266.4 1245.5,269.8 1248.1,273.1 1250.7,276.4 1253.3,279.6 1255.9,282.7 1258.5,285.7 1261.1,288.7 1263.7,291.6 1266.3,294.4 1269.0,297.1 1271.6,299.8 1274.2,302.4 1276.8,305.0 1279.4,307.5 1282.0,309.9 1284.6,312.3 1287.2,314.7 1289.8,317.0 1292.4,319.2 1295.0,321.4 1297.6,323.5 1300.2,325.6 1302.8,327.7 1305.4,329.7 1308.1,331.7 1310.7,333.6 1313.3,335.5 1315.9,337.4 1318.5,339.2 1321.1,341.0 1323.7,342.8 1326.3,344.5 1328.9,346.2 1331.5,347.9 1334.1,349.5 1336.7,351.1 1339.3,352.7 1341.9,354.2 1344.5,355.8 1347.1,357.2 1349.8,358.7 1352.4,360.2 1355.0,361.6 1357.6,363.0 1360.2,364.3 1362.8,365.7 1365.4,367.0 1368.0,368.3 1370.6,369.6 1373.2,370.9 1375.8,372.1 1378.4,373.3 1381.0,374.5 1383.6,375.7 1386.2,376.9 1388.9,378.0 1391.5,379.2 1394.1,380.3 1396.7,381.4 1399.3,382.5 1401.9,383.5 1404.5,384.6 1407.1,385.6 1409.7,386.6 1412.3,387.6 1414.9,388.6 1417.5,389.6 1420.1,390.6 1422.7,391.5 1425.3,392.5 1427.9,393.4 1430.6,394.3 1433.2,395.2 1435.8,396.1 1438.4,397.0 1441.0,397.8 1443.6,398.7 1446.2,399.5 1448.8,400.4 1451.4,401.2 1454.0,402.0 1456.6,402.8 1459.2,403.6 1461.8,404.3 1464.4,405.1 1467.0,405.9 1469.7,406.6 1472.3,407.4 1474.9,408.1 1477.5,408.8 1480.1,409.5 1482.7,410.2 1485.3,410.9 1487.9,411.6 1490.5,412.3 1493.1,413.0 1495.7,413.6 1498.3,414.3 1500.9,415.0 1503.5,415.6 1506.1,416.2 1508.8,416.9 1511.4,417.5 1514.0,418.1 1516.6,418.7 1519.2,419.3 1521.8,419.9 1524.4,420.5 1527.0,421.1 1529.6,421.6 1532.2,422.2 1534.8,422.8 1537.4,423.3 1540.0,423.9 1542.6,424.4 1545.2,425.0 1547.8,425.5 1550.5,426.0 1553.1,426.5 1555.7,427.1M1140.4,51.6 1143.0,63.9 1145.6,75.6 1148.2,86.7 1150.8,97.4 1153.4,107.5 1156.0,117.1 1158.6,126.4 1161.2,135.2 1163.8,143.6 1166.4,151.8 1169.0,159.5 1171.6,167.0 1174.2,174.2 1176.9,181.1 1179.5,187.7 1182.1,194.1 1184.7,200.3 1187.3,206.2 1189.9,211.9 1192.5,217.5 1195.1,222.8 1197.7,228.0 1200.3,233.0 1202.9,237.8 1205.5,242.5 1208.1,247.1 1210.7,251.5 1213.3,255.7 1216.0,259.9 1218.6,263.9 1221.2,267.8 1223.8,271.6 1226.4,275.3 1229.0,278.8 1231.6,282.3 1234.2,285.7 1236.8,289.0 1239.4,292.2 1242.0,295.4 1244.6,298.4 1247.2,301.4 1249.8,304.3 1252.4,307.1 1255.1,309.9 1257.7,312.6 1260.3,315.2 1262.9,317.8 1265.5,320.3 1268.1,322.7 1270.7,325.1 1273.3,327.5 1275.9,329.8 1278.5,332.0 1281.1,334.2 1283.7,336.3 1286.3,338.4 1288.9,340.5 1291.5,342.5 1294.1,344.5 1296.8,346.4 1299.4,348.3 1302.0,350.1 1304.6,351.9 1307.2,353.7 1309.8,355.5 1312.4,357.2 1315.0,358.9 1317.6,360.5 1320.2,362.1 1322.8,363.7 1325.4,365.3 1328.0,366.8 1330.6,368.3 1333.2,369.8 1335.9,371.2 1338.5,372.6 1341.1,374.0 1343.7,375.4 1346.3,376.8 1348.9,378.1 1351.5,379.4 1354.1,380.7 1356.7,382.0 1359.3,383.2 1361.9,384.4 1364.5,385.6 1367.1,386.8 1369.7,388.0 1372.3,389.1 1375.0,390.2 1377.6,391.4 1380.2,392.4 1382.8,393.5 1385.4,394.6 1388.0,395.6 1390.6,396.7 1393.2,397.7 1395.8,398.7 1398.4,399.7 1401.0,400.6 1403.6,401.6 1406.2,402.5 1408.8,403.5 1411.4,404.4 1414.0,405.3 1416.7,406.2 1419.3,407.1 1421.9,407.9 1424.5,408.8 1427.1,409.6 1429.7,410.4 1432.3,411.3 1434.9,412.1 1437.5,412.9 1440.1,413.7 1442.7,414.4 1445.3,415.2 1447.9,416.0 1450.5,416.7 1453.1,417.5 1455.8,418.2 1458.4,418.9 1461.0,419.6 1463.6,420.3 1466.2,421.0 1468.8,421.7 1471.4,422.4 1474.0,423.1 1476.6,423.7 1479.2,424.4 1481.8,425.0 1484.4,425.7 1487.0,426.3 1489.6,426.9 1492.2,427.5 1494.8,428.1 1497.0,428.6"/>
<rect class="l" x="1118.9" y="58" width="429" height="402.6"/>
<g clip-path="url(#cpc)"><circle cx="1172.5" cy="158.6" r="14.3" fill="#c5407e"/><circle cx="1208.3" cy="158.6" r="12.6" fill="#b6308b"/><circle cx="1244.0" cy="158.6" r="12.4" fill="#a11b9b"/><circle cx="1279.8" cy="158.6" r="13.2" fill="#9613a1"/><circle cx="1315.5" cy="158.6" r="14.7" fill="#a62098"/><circle cx="1351.3" cy="158.6" r="15.9" fill="#c9447a"/><circle cx="1440.7" cy="158.6" r="16.2" fill="#f0804e"/><circle cx="1530.0" cy="158.6" r="14.3" fill="#fcce25"/><circle cx="1208.3" cy="242.5" r="12" fill="#7a02a8"/><circle cx="1244.0" cy="242.5" r="11.1" fill="#7501a8"/><circle cx="1279.8" cy="242.5" r="11.4" fill="#8104a7"/><circle cx="1315.5" cy="242.5" r="13.2" fill="#a01a9c"/><circle cx="1351.3" cy="242.5" r="15" fill="#d14e72"/><circle cx="1440.7" cy="242.5" r="15.4" fill="#f79143"/><circle cx="1530.0" cy="242.5" r="15.8" fill="#fca636"/><circle cx="1244.0" cy="276.1" r="11.1" fill="#5002a2"/><circle cx="1279.8" cy="276.1" r="11" fill="#3f049c"/><circle cx="1315.5" cy="276.1" r="12.4" fill="#6e00a8"/><circle cx="1351.3" cy="276.1" r="14" fill="#b32c8e"/><circle cx="1440.7" cy="276.1" r="15.4" fill="#ed7953"/><circle cx="1530.0" cy="276.1" r="15.4" fill="#fb9f3a"/><circle cx="1279.8" cy="309.6" r="12" fill="#2e0595"/><circle cx="1315.5" cy="309.6" r="12.9" fill="#4e02a2"/><circle cx="1351.3" cy="309.6" r="14.5" fill="#a21d9a"/><circle cx="1440.7" cy="309.6" r="15.3" fill="#dd5e66"/><circle cx="1530.0" cy="309.6" r="14.3" fill="#f9973f"/><circle cx="1315.5" cy="343.2" r="14.3" fill="#6c00a8"/><circle cx="1351.3" cy="343.2" r="15.4" fill="#a11b9b"/><circle cx="1440.7" cy="343.2" r="15" fill="#d24f71"/><circle cx="1530.0" cy="343.2" r="14.3" fill="#f3874a"/><circle cx="1351.3" cy="376.7" r="15.9" fill="#bd3786"/><circle cx="1440.7" cy="376.7" r="14.5" fill="#ce4b75"/><circle cx="1530.0" cy="376.7" r="15.4" fill="#ee7b51"/><circle cx="1440.7" cy="410.3" r="14.8" fill="#d6556d"/><circle cx="1530.0" cy="410.3" r="15.9" fill="#eb7655"/></g>
<g><text class="c" transform="translate(1542.2,185.9) rotate(33.1)" y="8.2">3.0</text><text class="c" transform="translate(1520.5,257.2) rotate(27.1)" y="8.2">3.2</text><text class="c" transform="translate(1272.4,74.5) rotate(66.3)" y="8.2">3.5</text><text class="c" transform="translate(1540.9,357.9) rotate(17.4)" y="8.2">3.8</text><text class="c" transform="translate(1202.1,75.5) rotate(72.5)" y="8.2">4.0</text><text class="c" transform="translate(1459.2,384.3) rotate(18.6)" y="8.2">4.2</text><text class="c" transform="translate(1186.0,158.8) rotate(69.4)" y="8.2">4.5</text><text class="c" transform="translate(1541.3,438.0) rotate(11.2)" y="8.2">4.8</text></g>
<path class="l" d="M1172.5,460.6v15.25M1118.9,410.3h-15.25M1261.9,460.6v15.25M1118.9,326.4h-15.25M1351.3,460.6v15.25M1118.9,242.5h-15.25M1440.7,460.6v15.25M1118.9,158.6h-15.25M1530.0,460.6v15.25M1118.9,74.8h-15.25"/>
<text class="b" x="1118.4" y="33.0">c</text>
<text class="t" x="1129.4" y="450.5">CC3=4.4C</text>
</g>
<g id="panel-d">
<path class="l" clip-path="url(#cpd)" d="M467.4,585.4 470.1,587.9 472.7,590.3 475.3,592.7 477.9,595.0 480.5,597.4 483.1,599.6 485.7,601.9 488.3,604.1 490.9,606.3 493.5,608.4 496.1,610.5 498.7,612.6 501.3,614.7 503.9,616.7 506.5,618.7 509.1,620.7 511.7,622.6 514.3,624.6 516.9,626.5 519.6,628.3 522.2,630.2 524.8,632.0 526.1,632.9M308.1,533.8 310.7,538.7 313.3,543.4 315.9,548.0 318.5,552.6 321.1,557.0 323.7,561.3 326.3,565.5 328.9,569.7 331.5,573.7 334.1,577.7 336.7,581.5 339.4,585.3 342.0,589.1 344.6,592.7 347.2,596.3 349.8,599.7 352.4,603.2 355.0,606.5 357.6,609.8 360.2,613.0 362.8,616.2 365.4,619.3 368.0,622.3 370.6,625.3 373.2,628.2 375.8,631.1 378.4,633.9 381.0,636.7 383.6,639.4 386.2,642.1 388.9,644.7 391.5,647.3 394.1,649.9 396.7,652.4 399.3,654.8 401.9,657.2 404.5,659.6 407.1,661.9 409.7,664.2 412.3,666.5 414.9,668.7 417.5,670.9 420.1,673.0 422.7,675.1 425.3,677.2 427.9,679.3 430.5,681.3 433.1,683.3 435.7,685.2 438.4,687.2 441.0,689.1 443.6,690.9 446.2,692.8 448.8,694.6 451.4,696.4 454.0,698.1 456.6,699.9 459.2,701.6 461.8,703.3 464.4,705.0 467.0,706.6 469.6,708.2 472.2,709.8M266.0,590.2 268.6,595.0 271.2,599.7 273.8,604.3 276.4,608.8 279.0,613.2 281.6,617.5 284.2,621.6 286.8,625.7 289.4,629.7 292.0,633.6 294.6,637.4 297.2,641.1 299.8,644.7 302.4,648.3 305.0,651.7 307.7,655.1 310.3,658.4 312.9,661.7 315.5,664.9 318.1,668.0 320.7,671.0 323.3,674.0 325.9,677.0 328.5,679.8 331.1,682.6 333.7,685.4 336.3,688.1 338.9,690.8 341.5,693.4 344.1,695.9 346.7,698.4 349.3,700.9 351.9,703.3 354.5,705.7 357.2,708.0 359.8,710.3 362.4,712.5 365.0,714.7 367.6,716.9 370.2,719.0 372.8,721.1 375.4,723.2 378.0,725.2 380.6,727.2 383.2,729.2 385.8,731.1 388.4,733.0 391.0,734.9 393.6,736.7 396.2,738.5 398.8,740.3 401.4,742.0 404.1,743.7 406.7,745.4 409.3,747.1 411.9,748.8 414.5,750.4 417.1,752.0 419.7,753.6 422.3,755.1 424.9,756.6 427.5,758.1 430.1,759.6 432.7,761.1 435.3,762.5 437.9,763.9 440.5,765.3 443.1,766.7 445.7,768.1 448.3,769.4 450.9,770.8 453.6,772.1 456.2,773.4 458.8,774.6 461.4,775.9 464.0,777.1 466.6,778.4 469.2,779.6 471.8,780.8 474.4,781.9 477.0,783.1 479.6,784.2 482.2,785.4 484.8,786.5 487.4,787.6 490.0,788.7 492.6,789.8 495.2,790.8 497.8,791.9 500.4,792.9 503.1,794.0 505.7,795.0 508.3,796.0 510.9,797.0 513.5,797.9 516.1,798.9 518.7,799.9 521.3,800.8 523.9,801.8 526.1,802.5M194.3,533.8 196.9,541.7 199.5,549.3 202.1,556.6 204.7,563.8 207.4,570.6 210.0,577.3 212.6,583.8 215.2,590.0 217.8,596.0 220.4,601.9 223.0,607.6 225.6,613.1 228.2,618.5 230.8,623.7 233.4,628.8 236.0,633.7 238.6,638.5 241.2,643.1 243.8,647.7 246.4,652.1 249.0,656.4 251.6,660.6 254.2,664.6 256.9,668.6 259.5,672.5 262.1,676.3 264.7,680.0 267.3,683.6 269.9,687.1 272.5,690.5 275.1,693.9 277.7,697.2 280.3,700.4 282.9,703.5 285.5,706.6 288.1,709.6 290.7,712.5 293.3,715.4 295.9,718.2 298.5,721.0 301.1,723.6 303.7,726.3 306.4,728.9 309.0,731.4 311.6,733.9 314.2,736.3 316.8,738.7 319.4,741.1 322.0,743.4 324.6,745.6 327.2,747.8 329.8,750.0 332.4,752.1 335.0,754.2 337.6,756.3 340.2,758.3 342.8,760.3 345.4,762.2 348.0,764.2 350.6,766.0 353.2,767.9 355.9,769.7 358.5,771.5 361.1,773.2 363.7,775.0 366.3,776.7 368.9,778.3 371.5,780.0 374.1,781.6 376.7,783.2 379.3,784.8 381.9,786.3 384.5,787.8 387.1,789.3 389.7,790.8 392.3,792.2 394.9,793.7 397.5,795.1 400.1,796.5 402.7,797.8 405.4,799.2 408.0,800.5 410.6,801.8 413.2,803.1 415.8,804.4 418.4,805.6 421.0,806.9 423.6,808.1 426.2,809.3 428.8,810.5 431.4,811.6 434.0,812.8 436.6,813.9 439.2,815.0 441.8,816.1 444.4,817.2 447.0,818.3 447.5,818.5M181.7,597.1 184.3,604.1 186.9,610.8 189.5,617.3 192.2,623.5 194.8,629.6 197.4,635.4 200.0,641.1 202.6,646.6 205.2,652.0 207.8,657.1 210.4,662.2 213.0,667.0 215.6,671.8 218.2,676.4 220.8,680.8 223.4,685.2 226.0,689.4 228.6,693.5 231.2,697.5 233.8,701.4 236.4,705.2 239.0,708.9 241.7,712.5 244.3,716.1 246.9,719.5 249.5,722.8 252.1,726.1 254.7,729.3 257.3,732.4 259.9,735.4 262.5,738.4 265.1,741.3 267.7,744.2 270.3,746.9 272.9,749.7 275.5,752.3 278.1,754.9 280.7,757.5 283.3,760.0 285.9,762.4 288.5,764.8 291.2,767.1 293.8,769.4 296.4,771.7 299.0,773.9 301.6,776.0 304.2,778.2 306.8,780.2 309.4,782.3 312.0,784.3 314.6,786.2 317.2,788.2 319.8,790.1 322.4,791.9 325.0,793.8 327.6,795.5 330.2,797.3 332.8,799.0 335.4,800.7 338.0,802.4 340.7,804.0 343.3,805.7 345.9,807.2 348.5,808.8 351.1,810.3 353.7,811.9 356.3,813.3 358.9,814.8 361.5,816.2 364.1,817.7 366.7,819.0 369.3,820.4 371.9,821.8 374.5,823.1 377.1,824.4 379.7,825.7 382.3,827.0 384.9,828.2 387.6,829.5 390.2,830.7 392.8,831.9 395.4,833.0 398.0,834.2 400.6,835.4 403.2,836.5 405.8,837.6 408.4,838.7 411.0,839.8 413.6,840.8 416.2,841.9 418.8,842.9 421.4,844.0 424.0,845.0 426.6,846.0 429.2,847.0 431.8,847.9 434.4,848.9 437.1,849.8 439.7,850.8 442.3,851.7 444.9,852.6 447.5,853.5 450.1,854.4 452.7,855.3 455.3,856.1 457.9,857.0 460.5,857.8 463.1,858.7 465.7,859.5 468.3,860.3 470.9,861.1 473.5,861.9 476.1,862.7 478.7,863.5 481.3,864.2 483.9,865.0 486.6,865.8 489.2,866.5 491.8,867.2 494.4,868.0 497.0,868.7 499.6,869.4 502.2,870.1 504.8,870.8 507.4,871.5 510.0,872.1 512.6,872.8 515.2,873.5 517.8,874.1 520.4,874.8 523.0,875.4 525.6,876.1 526.1,876.2M137.0,534.0 139.6,544.6 142.2,554.7 144.8,564.5 147.4,573.8 150.0,582.7 152.6,591.2 155.2,599.5 157.9,607.4 160.5,615.0 163.1,622.3 165.7,629.3 168.3,636.1 170.9,642.7 173.5,649.0 176.1,655.1 178.7,661.0 181.3,666.7 183.9,672.2 186.5,677.6 189.1,682.7 191.7,687.7 194.3,692.6 196.9,697.3 199.5,701.9 202.1,706.3 204.7,710.6 207.4,714.8 210.0,718.9 212.6,722.9 215.2,726.7 217.8,730.4 220.4,734.1 223.0,737.6 225.6,741.1 228.2,744.5 230.8,747.8 233.4,751.0 236.0,754.1 238.6,757.2 241.2,760.1 243.8,763.0 246.4,765.9 249.0,768.6 251.6,771.4 254.2,774.0 256.9,776.6 259.5,779.1 262.1,781.6 264.7,784.0 267.3,786.4 269.9,788.7 272.5,791.0 275.1,793.2 277.7,795.4 280.3,797.5 282.9,799.6 285.5,801.7 288.1,803.7 290.7,805.6 293.3,807.6 295.9,809.5 298.5,811.3 301.1,813.2 303.7,814.9 306.4,816.7 309.0,818.4 311.6,820.1 314.2,821.8 316.8,823.4 319.4,825.0 322.0,826.6 324.6,828.2 327.2,829.7 329.8,831.2 332.4,832.6 335.0,834.1 337.6,835.5 340.2,836.9 342.8,838.3 345.4,839.6 348.0,841.0 350.6,842.3 353.2,843.6 355.9,844.9 358.5,846.1 361.1,847.3 363.7,848.5 366.3,849.7 368.9,850.9 371.5,852.1 374.1,853.2 375.0,853.6M460.1,883.2 462.7,883.9 465.3,884.7 467.9,885.4 470.5,886.1 473.1,886.8 475.7,887.5 478.3,888.1 480.9,888.8 483.5,889.5 486.1,890.1 488.7,890.8 491.3,891.4 493.9,892.0 496.5,892.7 499.1,893.3 501.7,893.9 504.4,894.5 507.0,895.1 509.6,895.7 512.2,896.3 514.8,896.8 517.4,897.4 520.0,898.0 522.6,898.5 525.2,899.1 526.1,899.3M117.9,534.4 120.5,546.2 123.1,557.5 125.7,568.2 128.3,578.5 130.9,588.3 133.5,597.6 136.1,606.6 138.7,615.2 141.4,623.4 144.0,631.3 146.6,638.8 149.2,646.1 151.8,653.1 154.4,659.9 157.0,666.4 159.6,672.6 162.2,678.7 164.8,684.5 167.4,690.1 170.0,695.6 172.6,700.8 175.2,705.9 177.8,710.8 180.4,715.6 183.0,720.2 185.6,724.7 188.2,729.1 190.9,733.3 193.5,737.4 196.1,741.4 198.7,745.2 201.3,749.0 203.9,752.6 206.5,756.2 209.1,759.7 211.7,763.0 214.3,766.3 216.9,769.5 219.5,772.6 222.1,775.6 224.7,778.6 227.3,781.5 229.9,784.3 232.5,787.0 235.1,789.7 237.7,792.4 240.4,794.9 243.0,797.4 245.6,799.9 248.2,802.3 250.8,804.6 253.4,806.9 256.0,809.1 258.6,811.3 261.2,813.5 263.8,815.5 266.4,817.6 269.0,819.6 271.6,821.6 274.2,823.5 276.8,825.4 279.4,827.3 282.0,829.1 284.6,830.9 287.2,832.6 289.9,834.3 292.5,836.0 295.1,837.7 297.7,839.3 300.3,840.9 302.9,842.5 305.5,844.0 308.1,845.5 310.7,847.0 313.3,848.5 315.9,849.9 318.5,851.3 321.1,852.7 323.7,854.0 326.3,855.4 328.9,856.7 331.5,858.0 334.1,859.3 336.7,860.5 339.4,861.7 342.0,863.0 344.6,864.1 347.2,865.3 349.8,866.5 352.4,867.6 355.0,868.7 357.6,869.8 360.2,870.9 362.8,872.0 365.4,873.0 368.0,874.1 370.6,875.1 373.2,876.1 375.8,877.1 378.4,878.1 381.0,879.1 383.6,880.0 386.2,881.0 388.9,881.9 391.5,882.8 394.1,883.7 396.7,884.6 399.3,885.5 401.9,886.3 404.5,887.2 407.1,888.0 409.7,888.8 412.3,889.7 414.9,890.5 417.5,891.3 420.1,892.1 422.7,892.8 425.3,893.6 427.9,894.4 430.5,895.1 433.1,895.9 435.7,896.6 438.4,897.3 441.0,898.0 443.6,898.7 446.2,899.4 448.8,900.1 451.4,900.8 454.0,901.5 456.6,902.1 459.2,902.8 461.8,903.4 464.4,904.1 467.0,904.7M102.7,535.4 105.3,548.3 107.9,560.6 109.2,566.5M133.5,654.2 136.1,661.6 138.7,668.8 141.4,675.6 144.0,682.2 146.6,688.6 149.2,694.7 151.8,700.6 154.4,706.2 157.0,711.7 159.6,717.0 162.2,722.1 164.8,727.1 167.4,731.9 170.0,736.5 172.6,741.0 175.2,745.4 177.8,749.6 180.4,753.7 183.0,757.6 185.6,761.5 188.2,765.2 190.9,768.8 193.5,772.4 196.1,775.8 198.7,779.2 201.3,782.4 203.9,785.6 206.5,788.7 209.1,791.7 211.7,794.6 214.3,797.4 216.9,800.2 219.5,802.9 222.1,805.6 224.7,808.1 227.3,810.7 229.9,813.1 232.5,815.5 235.1,817.9 237.7,820.2 240.4,822.4 243.0,824.6 245.6,826.8 248.2,828.9 250.8,830.9 253.4,832.9 256.0,834.9 258.6,836.8 261.2,838.7 263.8,840.6 266.4,842.4 269.0,844.2 271.6,845.9 274.2,847.6 276.8,849.3 279.4,850.9 282.0,852.6 284.6,854.1 287.2,855.7 289.9,857.2 292.5,858.7 295.1,860.2 297.7,861.6 300.3,863.0 302.9,864.4 305.5,865.8 308.1,867.1 310.7,868.5 313.3,869.8 315.9,871.0 318.5,872.3 321.1,873.5 323.7,874.7 326.3,875.9 328.9,877.1 331.5,878.3 334.1,879.4 336.7,880.5 339.4,881.6 342.0,882.7 344.6,883.8 347.2,884.8 349.8,885.9 352.4,886.9 355.0,887.9 357.6,888.9 360.2,889.9 362.8,890.8 365.4,891.8 368.0,892.7 370.6,893.6 373.2,894.5 375.8,895.4 378.4,896.3 381.0,897.2 383.6,898.0 386.2,898.9 388.9,899.7 391.5,900.5 394.1,901.3 396.7,902.1 399.3,902.9 401.9,903.7 404.5,904.5 407.1,905.2 409.7,906.0 412.3,906.7 414.9,907.4 417.5,908.2 420.1,908.9 422.7,909.6 425.3,910.3 427.9,911.0 430.5,911.6 433.1,912.3 435.7,913.0 438.4,913.6 441.0,914.3 443.6,914.9 446.2,915.5 448.8,916.2 451.4,916.8 454.0,917.4 456.6,918.0 459.2,918.6 461.8,919.2 464.4,919.7 467.0,920.3 469.6,920.9 472.2,921.4 474.8,922.0 477.4,922.5 480.0,923.1 482.6,923.6 485.2,924.1 487.9,924.7 490.5,925.2 493.1,925.7 495.7,926.2 498.3,926.7 500.9,927.2 503.5,927.7 506.1,928.2 508.7,928.7 511.3,929.1 513.9,929.6 516.5,930.1 519.1,930.5 521.7,931.0 524.3,931.5 526.1,931.8M90.1,535.6 92.7,549.6 95.3,562.8 97.9,575.3 100.5,587.2 103.1,598.4 105.7,609.1 108.4,619.3 111.0,628.9 113.6,638.2 116.2,647.0 118.8,655.4 121.4,663.5M157.4,747.3 160.0,751.9 162.6,756.3 165.2,760.6 167.8,764.8 170.4,768.8 173.0,772.8 175.7,776.5 178.3,780.2 180.9,783.8 183.5,787.3 186.1,790.7 188.7,793.9 191.3,797.1 193.9,800.2 196.5,803.3 199.1,806.2 201.7,809.1 204.3,811.9 206.9,814.6 209.5,817.2 212.1,819.8 214.7,822.4 217.3,824.8 219.9,827.2 222.5,829.6 225.2,831.9 227.8,834.1 230.4,836.3 233.0,838.4 235.6,840.5 238.2,842.6 240.8,844.6 243.4,846.5 246.0,848.5 248.6,850.3 251.2,852.2 253.8,854.0 256.4,855.7 259.0,857.5 261.6,859.2 264.2,860.8 266.8,862.5 269.4,864.0 272.0,865.6 274.7,867.1 277.3,868.7 279.9,870.1 282.5,871.6 285.1,873.0 287.7,874.4 290.3,875.8 292.9,877.1 295.5,878.5 298.1,879.8 300.7,881.0 303.3,882.3 305.9,883.5 308.5,884.7 311.1,885.9 313.7,887.1 316.3,888.3 318.9,889.4 321.5,890.5 324.2,891.6 326.8,892.7 329.4,893.8 332.0,894.8 334.6,895.8 337.2,896.9 339.8,897.9 342.4,898.8 345.0,899.8 347.6,900.8 350.2,901.7 352.8,902.6 355.4,903.5 358.0,904.4 360.6,905.3 363.2,906.2 365.8,907.1 368.4,907.9 371.1,908.7 373.7,909.6 376.3,910.4 378.9,911.2 381.5,912.0 384.1,912.8 386.7,913.5 389.3,914.3 391.9,915.0 394.5,915.8 397.1,916.5 399.7,917.2 402.3,917.9 404.9,918.6 407.5,919.3 410.1,920.0 412.7,920.7 415.3,921.4 417.9,922.0 420.6,922.7 423.2,923.3 425.8,924.0 428.4,924.6 431.0,925.2 433.6,925.8 436.2,926.4 438.8,927.0 441.4,927.6 444.0,928.2 446.6,928.8 449.2,929.3 451.8,929.9 454.4,930.5 457.0,931.0 459.6,931.5 462.2,932.1 464.8,932.6 467.4,933.1 470.1,933.7 472.7,934.2 475.3,934.7 477.9,935.2 480.5,935.7 483.1,936.2 485.7,936.7 488.3,937.1 490.9,937.6 493.5,938.1 496.1,938.6 498.7,939.0 501.3,939.5 503.9,939.9 506.5,940.4 509.1,940.8 511.7,941.3 514.3,941.7 516.9,942.1 519.6,942.5 522.2,943.0 524.8,943.4 526.1,943.6"/>
<rect class="l" x="89.5" y="541.3" width="428.8" height="402.6"/>
<g clip-path="url(#cpd)"><circle cx="143.1" cy="641.9" r="14.2" fill="#ba3388"/><circle cx="178.8" cy="641.9" r="12.8" fill="#a51f99"/><circle cx="214.6" cy="641.9" r="12" fill="#8f0da4"/><circle cx="250.3" cy="641.9" r="12.6" fill="#8f0da4"/><circle cx="286.0" cy="641.9" r="14.9" fill="#a21d9a"/><circle cx="321.8" cy="641.9" r="16.7" fill="#bd3786"/><circle cx="411.1" cy="641.9" r="15" fill="#f3874a"/><circle cx="500.4" cy="641.9" r="14.5" fill="#f7e425"/><circle cx="143.1" cy="725.8" r="12.1" fill="#5502a4"/><circle cx="178.8" cy="725.8" r="10.7" fill="#5002a2"/><circle cx="214.6" cy="725.8" r="10.6" fill="#5c01a6"/><circle cx="250.3" cy="725.8" r="11.1" fill="#7100a8"/><circle cx="286.0" cy="725.8" r="13" fill="#9a169f"/><circle cx="321.8" cy="725.8" r="15.4" fill="#cc4778"/><circle cx="411.1" cy="725.8" r="16.6" fill="#f79143"/><circle cx="500.4" cy="725.8" r="17.3" fill="#f99a3e"/><circle cx="178.8" cy="759.4" r="11.1" fill="#3f049c"/><circle cx="214.6" cy="759.4" r="10.4" fill="#2f0596"/><circle cx="250.3" cy="759.4" r="10.7" fill="#330597"/><circle cx="286.0" cy="759.4" r="12" fill="#6e00a8"/><circle cx="321.8" cy="759.4" r="14.5" fill="#bc3587"/><circle cx="411.1" cy="759.4" r="15.9" fill="#f2844b"/><circle cx="500.4" cy="759.4" r="16.4" fill="#f58b47"/><circle cx="214.6" cy="792.9" r="10.7" fill="#260591"/><circle cx="250.3" cy="792.9" r="10.5" fill="#0d0887"/><circle cx="286.0" cy="792.9" r="12.1" fill="#4903a0"/><circle cx="321.8" cy="792.9" r="14.9" fill="#a72197"/><circle cx="411.1" cy="792.9" r="14.9" fill="#e76e5b"/><circle cx="500.4" cy="792.9" r="14.8" fill="#f0804e"/><circle cx="250.3" cy="826.5" r="12" fill="#2f0596"/><circle cx="286.0" cy="826.5" r="13" fill="#6300a7"/><circle cx="321.8" cy="826.5" r="14.9" fill="#b52f8c"/><circle cx="411.1" cy="826.5" r="14.7" fill="#dc5d67"/><circle cx="500.4" cy="826.5" r="14.3" fill="#f07f4f"/><circle cx="286.0" cy="860.0" r="13.3" fill="#a21d9a"/><circle cx="321.8" cy="860.0" r="14.2" fill="#c33d80"/><circle cx="411.1" cy="860.0" r="13.9" fill="#d5536f"/><circle cx="500.4" cy="860.0" r="16.1" fill="#f07f4f"/><circle cx="321.8" cy="893.6" r="14.2" fill="#c9447a"/><circle cx="411.1" cy="893.6" r="14.2" fill="#d5536f"/><circle cx="500.4" cy="893.6" r="16.4" fill="#ee7b51"/><circle cx="500.4" cy="927.1" r="16.6" fill="#eb7556"/></g>
<g><text class="c" transform="translate(436.2,552.7) rotate(48.7)" y="8.2">2.8</text><text class="c" transform="translate(511.7,731.6) rotate(27.3)" y="8.2">3.0</text><text class="c" transform="translate(246.4,549.3) rotate(66.1)" y="8.2">3.2</text><text class="c" transform="translate(490.0,834.3) rotate(18.5)" y="8.2">3.5</text><text class="c" transform="translate(167.4,554.0) rotate(73.0)" y="8.2">3.8</text><text class="c" transform="translate(417.1,869.9) rotate(19.1)" y="8.2">4.0</text><text class="c" transform="translate(511.3,914.4) rotate(11.6)" y="8.2">4.2</text><text class="c" transform="translate(120.1,610.3) rotate(74.6)" y="8.2">4.5</text><text class="c" transform="translate(137.4,706.3) rotate(66.9)" y="8.2">4.8</text></g>
<path class="l" d="M143.1,943.9v15.25M89.5,893.6h-15.25M232.4,943.9v15.25M89.5,809.7h-15.25M321.8,943.9v15.25M89.5,725.8h-15.25M411.1,943.9v15.25M89.5,641.9h-15.25M500.4,943.9v15.25M89.5,558.1h-15.25"/>
<text class="t m" x="143.1" y="994.2">4</text>
<text class="t m" x="232.4" y="994.2">5</text>
<text class="t m" x="321.8" y="994.2">6</text>
<text class="t m" x="411.1" y="994.2">7</text>
<text class="t m" x="500.4" y="994.2">8</text>
<text class="t m" x="303.9" y="1037.9">CC1 (C rate)</text>
<text class="t e" x="59.9" y="903.1">4</text>
<text class="t e" x="59.9" y="819.3">5</text>
<text class="t e" x="59.9" y="735.4">6</text>
<text class="t e" x="59.9" y="651.5">7</text>
<text class="t e" x="59.9" y="567.6">8</text>
<text class="t m" transform="translate(20.4,742.6) rotate(-90)">CC2 (C rate)</text>
<text class="b" x="89.0" y="516.3">d</text>
<text class="t" x="100.0" y="933.8">CC3=4.8C</text>
</g>
<g id="panel-e">
<path class="l" clip-path="url(#cpe)" d="M870.3,533.4 872.9,537.5 875.5,541.5 878.1,545.4 880.7,549.3 883.3,553.1 885.9,556.8 888.5,560.4 891.1,563.9 893.7,567.4 896.3,570.9 899.0,574.2 901.6,577.5 904.2,580.7 906.8,583.9 909.4,587.0 912.0,590.1 914.6,593.1 917.2,596.0 919.8,598.9 922.4,601.8 925.0,604.6 927.6,607.3 930.2,610.0 932.9,612.7 935.5,615.3 938.1,617.9 940.7,620.4 943.3,622.9 945.9,625.4 948.5,627.8 951.1,630.1 953.7,632.5 956.3,634.8 958.9,637.0 961.5,639.3 964.1,641.5 966.8,643.6 969.4,645.7 972.0,647.8 974.6,649.9 977.2,651.9 979.8,653.9 982.4,655.9 985.0,657.9 987.6,659.8M778.1,533.9 780.7,539.7 783.3,545.3 786.0,550.8 788.6,556.1 791.2,561.3 793.8,566.4 796.4,571.4 799.0,576.2 801.6,580.9 804.2,585.5 806.8,589.9 809.4,594.3 812.0,598.6 814.6,602.8 817.2,606.8 819.9,610.8 822.5,614.7 825.1,618.5 827.7,622.2 830.3,625.9 832.9,629.4 835.5,632.9 838.1,636.3 840.7,639.6 843.3,642.9 845.9,646.1 848.5,649.3 851.1,652.3 853.8,655.3 856.4,658.3 859.0,661.2 861.6,664.0 864.2,666.8 866.8,669.6 869.4,672.3 872.0,674.9 874.6,677.5 877.2,680.0 879.8,682.5 882.4,685.0 885.0,687.4 887.7,689.7 890.3,692.0 892.9,694.3 895.5,696.6 898.1,698.8 900.7,700.9 903.3,703.1 905.9,705.2 908.5,707.2 911.1,709.3 913.7,711.3 916.3,713.2 918.9,715.2 921.6,717.1 924.2,718.9 926.8,720.8 929.4,722.6 932.0,724.4 934.6,726.1 937.2,727.9 939.8,729.6 942.4,731.3 945.0,732.9 947.6,734.5 950.2,736.2 952.8,737.7 955.5,739.3 958.1,740.9 960.7,742.4 963.3,743.9 965.9,745.3 968.5,746.8 971.1,748.2 973.7,749.7 974.6,750.1M750.3,606.5 752.9,611.8 755.5,616.9 758.1,621.8 760.7,626.6 763.3,631.3 766.0,635.9 768.6,640.3 771.2,644.7 773.8,648.9 776.4,653.0 779.0,657.0 781.6,661.0 784.2,664.8 786.8,668.5 789.4,672.2 792.0,675.7 794.6,679.2 797.3,682.6 799.9,685.9 802.5,689.2 805.1,692.3 807.7,695.4 810.3,698.5 812.9,701.5 815.5,704.4 818.1,707.2 820.7,710.0 823.3,712.7 825.9,715.4 828.5,718.0 831.2,720.6 833.8,723.1 836.4,725.6 839.0,728.0 841.6,730.4 844.2,732.8 846.8,735.1 849.4,737.3 852.0,739.5 854.6,741.7 857.2,743.8 859.8,745.9 862.4,747.9 865.1,750.0 867.7,751.9 870.3,753.9 872.9,755.8 875.5,757.7 878.1,759.5 880.7,761.4 883.3,763.2 885.9,764.9 888.5,766.6 891.1,768.3 893.7,770.0 896.3,771.7 899.0,773.3 901.6,774.9 904.2,776.5 906.8,778.0 909.4,779.5 912.0,781.0 914.6,782.5 917.2,784.0 919.8,785.4 922.4,786.8 925.0,788.2 927.6,789.6 930.2,790.9 932.9,792.3 935.5,793.6 938.1,794.9 940.7,796.2 943.3,797.4 945.9,798.7 948.5,799.9 951.1,801.1 953.7,802.3 956.3,803.5 958.9,804.6 961.5,805.8 964.1,806.9 966.8,808.0 969.4,809.1 972.0,810.2 974.6,811.3 977.2,812.4 979.8,813.4 982.4,814.4 985.0,815.5 987.6,816.5 990.2,817.5 992.8,818.4 995.4,819.4 998.0,820.4 1000.7,821.3 1003.3,822.3 1005.9,823.2 1008.5,824.1 1011.1,825.0 1013.7,825.9 1016.3,826.8 1018.9,827.6 1021.5,828.5 1024.1,829.4 1026.7,830.2 1029.3,831.0 1031.9,831.9 1034.6,832.7 1037.2,833.5 1039.8,834.3 1041.1,834.7M681.2,534.2 683.8,543.2 686.4,551.9 689.0,560.3 691.6,568.4 694.2,576.1 696.9,583.6 699.5,590.9 702.1,597.8 704.7,604.6 707.3,611.1 709.9,617.4 712.5,623.5 715.1,629.4 717.7,635.1 720.3,640.6 722.9,646.0 725.5,651.2 728.1,656.3 730.8,661.2 733.4,665.9 736.0,670.6 738.6,675.1 741.2,679.4 743.8,683.7 746.4,687.8 749.0,691.9 751.6,695.8 754.2,699.6 756.8,703.4 759.4,707.0 762.0,710.5 764.7,714.0 767.3,717.4 769.9,720.7 772.5,723.9 775.1,727.0 777.7,730.1 780.3,733.1 782.9,736.0 785.5,738.9 788.1,741.7 790.7,744.4 793.3,747.1 795.9,749.8 798.6,752.3 801.2,754.8 803.8,757.3 806.4,759.7 809.0,762.1 811.6,764.4 814.2,766.7 816.8,768.9 819.4,771.1 822.0,773.2 824.6,775.3 827.2,777.4 829.8,779.4 832.5,781.4 835.1,783.3 837.7,785.2 840.3,787.1 842.9,789.0 845.5,790.8 848.1,792.6 850.7,794.3 853.3,796.0 855.9,797.7 858.5,799.4 861.1,801.0 863.7,802.6 866.4,804.2 869.0,805.7 871.6,807.3 874.2,808.8 876.8,810.3 879.4,811.7 882.0,813.1 884.6,814.5 887.2,815.9 889.8,817.3 892.4,818.6 895.0,820.0 897.6,821.3 900.3,822.6 902.9,823.8 905.5,825.1 908.1,826.3 910.7,827.5 913.3,828.7 915.9,829.9 918.5,831.0 921.1,832.2 923.7,833.3 926.3,834.4 928.9,835.5 931.5,836.6 934.2,837.7 936.8,838.7 939.4,839.8 942.0,840.8 944.6,841.8 947.2,842.8 949.8,843.8 952.4,844.7 955.0,845.7 957.6,846.7 960.2,847.6 962.8,848.5 965.4,849.4 968.1,850.3 970.7,851.2 973.3,852.1 975.9,853.0 978.5,853.8 981.1,854.7 982.0,854.9M671.2,600.5 673.8,608.3 676.4,615.8 679.0,623.0 681.6,630.0 684.2,636.8 686.9,643.2 689.5,649.5 692.1,655.6 694.7,661.4 697.3,667.1 699.9,672.6 702.5,677.9 705.1,683.0 707.7,688.0 710.3,692.8 712.9,697.5 715.5,702.0 718.1,706.4 720.8,710.7 723.4,714.9 726.0,718.9 728.6,722.8 731.2,726.7 733.8,730.4 736.4,734.0 739.0,737.6 741.6,741.0 744.2,744.3 746.8,747.6 749.4,750.8 752.0,753.9 754.7,757.0 757.3,759.9 759.9,762.8 762.5,765.6 765.1,768.4 767.7,771.1 770.3,773.7 772.9,776.3 775.5,778.8 778.1,781.3 780.7,783.7 783.3,786.1 786.0,788.4 788.6,790.6 791.2,792.9 793.8,795.0 796.4,797.2 799.0,799.2 801.6,801.3 804.2,803.3 806.8,805.3 809.4,807.2 812.0,809.1 814.6,810.9 817.2,812.7 819.9,814.5 822.5,816.3 825.1,818.0 827.7,819.7 830.3,821.3 832.9,823.0 835.5,824.6 838.1,826.1 840.7,827.7 843.3,829.2 845.9,830.7 848.5,832.2 851.1,833.6 853.8,835.0 856.4,836.4 859.0,837.8 861.6,839.2 864.2,840.5 866.8,841.8 869.4,843.1 872.0,844.4 874.6,845.6 877.2,846.8 879.8,848.0 882.4,849.2 885.0,850.4 887.7,851.6 890.3,852.7 892.9,853.8 895.5,854.9 898.1,856.0 900.7,857.1 903.3,858.2 905.9,859.2 908.5,860.2 911.1,861.2 913.7,862.2 916.3,863.2 918.9,864.2 921.6,865.2 924.2,866.1 926.8,867.0 929.4,868.0 932.0,868.9 934.6,869.8 937.2,870.7 939.8,871.5 942.4,872.4 945.0,873.2 947.6,874.1 950.2,874.9 952.8,875.7 955.5,876.5 958.1,877.3 960.7,878.1 963.3,878.9 965.9,879.7 968.5,880.4 971.1,881.2 973.7,881.9 976.3,882.7 978.9,883.4 981.5,884.1 984.1,884.8 986.7,885.5 989.4,886.2 992.0,886.9 994.6,887.6 997.2,888.2 999.8,888.9 1002.4,889.6 1005.0,890.2 1007.6,890.8 1010.2,891.5 1012.8,892.1 1015.4,892.7 1018.0,893.3 1020.6,893.9 1023.3,894.5 1025.9,895.1 1028.5,895.7 1031.1,896.3 1033.7,896.9 1036.3,897.4 1038.9,898.0 1041.1,898.5M630.8,533.9 633.4,545.8 636.0,557.2 638.6,568.1 641.2,578.4 643.8,588.3 646.4,597.8 649.0,606.8 651.7,615.5 654.3,623.8 656.9,631.7 659.5,639.3 662.1,646.7 664.7,653.7 667.3,660.5 669.9,667.1 672.5,673.4 675.1,679.5 677.7,685.3 680.3,691.0 682.9,696.5 685.6,701.7 688.2,706.9 690.8,711.8 693.4,716.6 696.0,721.3 698.6,725.8 701.2,730.1 703.8,734.4 706.4,738.5 709.0,742.5 711.6,746.4 714.2,750.1 716.8,753.8 719.5,757.4 722.1,760.8 724.7,764.2 727.3,767.5 729.9,770.7 732.5,773.8 735.1,776.9 737.7,779.8 740.3,782.7 742.9,785.5 745.5,788.3 748.1,791.0 750.7,793.6 753.4,796.2 756.0,798.7 758.6,801.1 761.2,803.5 763.8,805.9 766.4,808.2 769.0,810.4 771.6,812.6 774.2,814.7 776.8,816.8 779.4,818.9 782.0,820.9 784.6,822.9 787.3,824.8 789.9,826.7 792.5,828.6 795.1,830.4 797.7,832.2 800.3,833.9 802.9,835.7 805.5,837.3 808.1,839.0 810.7,840.6 813.3,842.2 815.9,843.8 818.5,845.3 821.2,846.8 823.8,848.3 826.4,849.8 829.0,851.2 831.6,852.6 834.2,854.0 836.8,855.3 839.4,856.7 842.0,858.0 844.6,859.3 847.2,860.6 849.8,861.8 852.4,863.0 855.1,864.3 857.7,865.4 860.3,866.6 862.9,867.8 865.5,868.9 868.1,870.0 870.7,871.1 873.3,872.2 875.9,873.3 878.5,874.3 881.1,875.4 883.7,876.4 886.3,877.4 889.0,878.4 891.6,879.4 894.2,880.3 896.8,881.3 899.4,882.2 902.0,883.2 904.6,884.1 907.2,885.0 909.8,885.9 912.4,886.7 915.0,887.6 917.6,888.4 920.2,889.3M1007.6,912.1 1010.2,912.7 1012.8,913.2 1015.4,913.8 1018.0,914.3 1020.6,914.9 1023.3,915.4 1025.9,915.9 1028.5,916.4 1031.1,916.9 1033.7,917.4 1036.3,917.9 1038.9,918.4 1041.1,918.8M613.8,534.4 616.4,547.7 619.1,560.2 621.7,572.1 624.3,583.5 626.9,594.2 627.3,596.0M654.7,682.9 657.3,689.4 659.9,695.6 662.5,701.6 665.1,707.4 667.7,713.0 670.3,718.4 672.9,723.6 675.6,728.6 678.2,733.4 680.8,738.1 683.4,742.7 686.0,747.1 688.6,751.4 691.2,755.5 693.8,759.5 696.4,763.4 699.0,767.2 701.6,770.9 704.2,774.4 706.8,777.9 709.5,781.3 712.1,784.6 714.7,787.8 717.3,790.9 719.9,793.9 722.5,796.8 725.1,799.7 727.7,802.5 730.3,805.2 732.9,807.9 735.5,810.5 738.1,813.1 740.7,815.5 743.4,817.9 746.0,820.3 748.6,822.6 751.2,824.9 753.8,827.1 756.4,829.2 759.0,831.4 761.6,833.4 764.2,835.4 766.8,837.4 769.4,839.4 772.0,841.3 774.6,843.1 777.3,844.9 779.9,846.7 782.5,848.5 785.1,850.2 787.7,851.9 790.3,853.5 792.9,855.1 795.5,856.7 798.1,858.3 800.7,859.8 803.3,861.3 805.9,862.8 808.6,864.2 811.2,865.6 813.8,867.0 816.4,868.4 819.0,869.7 821.6,871.1 824.2,872.4 826.8,873.6 829.4,874.9 832.0,876.1 834.6,877.3 837.2,878.5 839.8,879.7 842.5,880.9 845.1,882.0 847.7,883.1 850.3,884.2 852.9,885.3 855.5,886.4 858.1,887.4 860.7,888.4 863.3,889.5 865.9,890.5 868.5,891.5 871.1,892.4 873.7,893.4 876.4,894.3 879.0,895.3 881.6,896.2 884.2,897.1 886.8,898.0 889.4,898.9 892.0,899.7 894.6,900.6 897.2,901.4 899.8,902.3 902.4,903.1 905.0,903.9 907.6,904.7 910.3,905.5 912.9,906.2 915.5,907.0 918.1,907.8 920.7,908.5 923.3,909.3 925.9,910.0 928.5,910.7 931.1,911.4 933.7,912.1 936.3,912.8 938.9,913.5 941.5,914.2 944.2,914.8 946.8,915.5 949.4,916.1 952.0,916.8 954.6,917.4 957.2,918.0 959.8,918.6 962.4,919.3 965.0,919.9 967.6,920.5 970.2,921.1 972.8,921.6 975.4,922.2 978.1,922.8 980.7,923.3 983.3,923.9 985.9,924.5 988.5,925.0 991.1,925.5 993.7,926.1 996.3,926.6 998.9,927.1 1001.5,927.6 1004.1,928.2 1006.7,928.7 1009.3,929.2 1012.0,929.7 1014.6,930.1 1017.2,930.6 1019.8,931.1 1022.4,931.6 1025.0,932.0 1027.6,932.5 1030.2,933.0 1032.8,933.4 1035.4,933.9 1038.0,934.3 1040.6,934.8 1041.1,934.8M599.9,533.6 602.5,548.1 605.1,561.8 607.8,574.7 610.4,587.0 613.0,598.6 615.6,609.6 618.2,620.0 620.8,630.0 623.4,639.4 626.0,648.5 628.6,657.1 631.2,665.3 633.8,673.2 636.4,680.7 639.0,688.0 641.7,694.9 644.3,701.6 646.9,708.0 649.5,714.1 652.1,720.1 654.7,725.8 657.3,731.3 659.9,736.6 662.5,741.7 665.1,746.6 667.7,751.4 670.3,756.0 672.9,760.5 675.6,764.8 678.2,769.0 680.8,773.0 683.4,777.0 686.0,780.8 688.6,784.5 691.2,788.1 693.8,791.5 696.4,794.9 699.0,798.2 701.6,801.4 704.2,804.5 706.8,807.6 709.5,810.5 712.1,813.4 714.7,816.2 717.3,818.9 719.9,821.5 722.5,824.1 725.1,826.6 727.7,829.1 730.3,831.5 732.9,833.9 735.5,836.1 738.1,838.4 740.7,840.6 743.4,842.7 746.0,844.8 748.6,846.8 751.2,848.8 753.8,850.8 756.4,852.7 759.0,854.6 761.6,856.4 764.2,858.2 766.8,860.0 769.4,861.7 772.0,863.4 774.6,865.0 777.3,866.6 779.9,868.2 782.5,869.8 785.1,871.3 787.7,872.8 790.3,874.3 792.9,875.7 795.5,877.1 798.1,878.5 800.7,879.9 803.3,881.2 805.9,882.5 808.6,883.8 811.2,885.1 813.8,886.4 816.4,887.6 819.0,888.8 821.6,890.0 824.2,891.1 826.8,892.3 829.4,893.4 832.0,894.5 834.6,895.6 837.2,896.7 839.8,897.7 842.5,898.8 845.1,899.8 845.9,900.1M932.9,926.8 935.5,927.4 938.1,928.1 940.7,928.7 943.3,929.3 945.9,929.9 948.5,930.5 951.1,931.1 953.7,931.6 956.3,932.2 958.9,932.8 961.5,933.3 964.1,933.9 966.8,934.4 969.4,935.0 972.0,935.5 974.6,936.0 977.2,936.6 979.8,937.1 982.4,937.6 985.0,938.1 987.6,938.6 990.2,939.1 992.8,939.6 995.4,940.1 998.0,940.5 1000.7,941.0 1003.3,941.5 1005.9,941.9 1008.5,942.4 1011.1,942.9 1013.7,943.3 1016.3,943.7 1018.9,944.2 1021.5,944.6 1024.1,945.0 1026.7,945.5 1029.3,945.9 1031.9,946.3 1034.6,946.7 1037.2,947.1 1039.8,947.5 1041.1,947.7M596.5,577.8 599.1,590.9 601.7,603.2 604.3,614.9 606.9,625.9 609.5,636.4 612.1,646.3 614.7,655.8 617.3,664.8 619.1,670.5M652.5,754.6 655.1,759.6 657.7,764.4 660.3,769.0 663.0,773.4 665.6,777.8 668.2,781.9 670.8,786.0 673.4,789.9 676.0,793.7 678.6,797.3 681.2,800.9 683.8,804.3 686.4,807.7 689.0,811.0 691.6,814.1 694.2,817.2 696.9,820.2 699.5,823.1 702.1,825.9 704.7,828.7 707.3,831.4 709.9,834.0 712.5,836.6 715.1,839.0 717.7,841.5 720.3,843.8 722.9,846.1 725.5,848.4 728.1,850.6 730.8,852.7 733.4,854.8 736.0,856.9 738.6,858.9 741.2,860.9 743.8,862.8 746.4,864.6 749.0,866.5 751.6,868.3 754.2,870.0 756.8,871.8 759.4,873.4 762.0,875.1 764.7,876.7 767.3,878.3 769.9,879.8 772.5,881.4 775.1,882.8 777.7,884.3 780.3,885.7 782.9,887.2 785.5,888.5 788.1,889.9 790.7,891.2 793.3,892.5 795.9,893.8 798.6,895.1 801.2,896.3 803.8,897.5 806.4,898.7 809.0,899.9 811.6,901.0 814.2,902.2 816.8,903.3 819.4,904.4 822.0,905.5 824.6,906.5 827.2,907.6 829.8,908.6 832.5,909.6 835.1,910.6 837.7,911.6 840.3,912.5 842.9,913.5 845.5,914.4 848.1,915.3 850.7,916.2 853.3,917.1 855.9,918.0 858.5,918.9 861.1,919.7 863.7,920.6 866.4,921.4 869.0,922.2 871.6,923.0 874.2,923.8 876.8,924.6 879.4,925.3 882.0,926.1 884.6,926.9 887.2,927.6 889.8,928.3 892.4,929.0 895.0,929.7 897.6,930.4 900.3,931.1 902.9,931.8 905.5,932.5 908.1,933.1 910.7,933.8 913.3,934.4 915.9,935.1 918.5,935.7 921.1,936.3 923.7,937.0 926.3,937.6 928.9,938.2 931.5,938.7 934.2,939.3 936.8,939.9 939.4,940.5 942.0,941.0 944.6,941.6 947.2,942.1 949.8,942.7 952.4,943.2 955.0,943.8 957.6,944.3 960.2,944.8 962.8,945.3 965.4,945.8 968.1,946.3 970.7,946.8 973.3,947.3 975.9,947.8 978.5,948.3 981.1,948.7 983.7,949.2 986.3,949.7 988.9,950.1 991.5,950.6 994.1,951.0 996.7,951.5 998.9,951.8"/>
<rect class="l" x="604.1" y="541.3" width="429.2" height="402.6"/>
<g clip-path="url(#cpe)"><circle cx="622.0" cy="641.9" r="16.2" fill="#bf3984"/><circle cx="657.8" cy="641.9" r="14.5" fill="#ac2694"/><circle cx="693.5" cy="641.9" r="13.2" fill="#9a169f"/><circle cx="729.3" cy="641.9" r="12.5" fill="#8f0da4"/><circle cx="765.1" cy="641.9" r="13.2" fill="#9a169f"/><circle cx="800.8" cy="641.9" r="15" fill="#b12a90"/><circle cx="836.6" cy="641.9" r="16.4" fill="#cc4778"/><circle cx="926.0" cy="641.9" r="14.2" fill="#f89540"/><circle cx="1015.4" cy="641.9" r="14.3" fill="#f0f921"/><circle cx="657.8" cy="725.8" r="11" fill="#3f049c"/><circle cx="693.5" cy="725.8" r="10.6" fill="#43039e"/><circle cx="729.3" cy="725.8" r="10.6" fill="#5c01a6"/><circle cx="765.1" cy="725.8" r="11" fill="#8d0ba5"/><circle cx="800.8" cy="725.8" r="13" fill="#ba3388"/><circle cx="836.6" cy="725.8" r="15.7" fill="#d8576b"/><circle cx="926.0" cy="725.8" r="17.2" fill="#f89540"/><circle cx="1015.4" cy="725.8" r="18" fill="#f79342"/><circle cx="657.8" cy="759.4" r="11.5" fill="#2e0595"/><circle cx="693.5" cy="759.4" r="10.5" fill="#260591"/><circle cx="729.3" cy="759.4" r="10.4" fill="#2f0596"/><circle cx="765.1" cy="759.4" r="10.7" fill="#5601a4"/><circle cx="800.8" cy="759.4" r="12.5" fill="#9e199d"/><circle cx="836.6" cy="759.4" r="15.4" fill="#ce4b75"/><circle cx="926.0" cy="759.4" r="16.3" fill="#f79143"/><circle cx="1015.4" cy="759.4" r="17.3" fill="#ed7a52"/><circle cx="693.5" cy="792.9" r="11" fill="#2a0593"/><circle cx="729.3" cy="792.9" r="10.1" fill="#130789"/><circle cx="765.1" cy="792.9" r="10.7" fill="#2a0593"/><circle cx="800.8" cy="792.9" r="13" fill="#6e00a8"/><circle cx="836.6" cy="792.9" r="15.7" fill="#c43e7f"/><circle cx="926.0" cy="792.9" r="14.3" fill="#f58b47"/><circle cx="1015.4" cy="792.9" r="15.7" fill="#ed7a52"/><circle cx="729.3" cy="826.5" r="11.6" fill="#38049a"/><circle cx="765.1" cy="826.5" r="11.4" fill="#3a049a"/><circle cx="800.8" cy="826.5" r="13.3" fill="#7401a8"/><circle cx="836.6" cy="826.5" r="15.7" fill="#c03a83"/><circle cx="926.0" cy="826.5" r="13.8" fill="#ea7457"/><circle cx="1015.4" cy="826.5" r="15.4" fill="#ed7a52"/><circle cx="765.1" cy="860.0" r="13.2" fill="#8606a6"/><circle cx="800.8" cy="860.0" r="13.5" fill="#a72197"/><circle cx="836.6" cy="860.0" r="14.4" fill="#c9447a"/><circle cx="926.0" cy="860.0" r="13.8" fill="#df6263"/><circle cx="1015.4" cy="860.0" r="15.2" fill="#ed7953"/><circle cx="800.8" cy="893.6" r="13.5" fill="#ce4b75"/><circle cx="836.6" cy="893.6" r="13.9" fill="#ce4b75"/><circle cx="926.0" cy="893.6" r="14.5" fill="#d6556d"/><circle cx="1015.4" cy="893.6" r="16.2" fill="#eb7556"/><circle cx="926.0" cy="927.1" r="16.2" fill="#ca457a"/><circle cx="1015.4" cy="927.1" r="16.4" fill="#ea7457"/></g>
<g><text class="c" transform="translate(1025.4,684.8) rotate(31.7)" y="8.2">2.8</text><text class="c" transform="translate(1015.4,770.0) rotate(23.8)" y="8.2">3.0</text><text class="c" transform="translate(732.1,565.2) rotate(68.3)" y="8.2">3.2</text><text class="c" transform="translate(1025.4,867.6) rotate(15.2)" y="8.2">3.5</text><text class="c" transform="translate(658.2,556.2) rotate(74.9)" y="8.2">3.8</text><text class="c" transform="translate(963.7,901.8) rotate(14.6)" y="8.2">4.0</text><text class="c" transform="translate(639.5,639.6) rotate(72.7)" y="8.2">4.2</text><text class="c" transform="translate(889.0,914.9) rotate(16.9)" y="8.2">4.5</text><text class="c" transform="translate(633.8,713.2) rotate(68.5)" y="8.2">4.8</text></g>
<path class="l" d="M657.8,943.9v15.25M604.1,893.6h-15.25M747.2,943.9v15.25M604.1,809.7h-15.25M836.6,943.9v15.25M604.1,725.8h-15.25M926.0,943.9v15.25M604.1,641.9h-15.25M1015.4,943.9v15.25M604.1,558.1h-15.25"/>
<text class="t m" x="657.8" y="994.2">4</text>
<text class="t m" x="747.2" y="994.2">5</text>
<text class="t m" x="836.6" y="994.2">6</text>
<text class="t m" x="926.0" y="994.2">7</text>
<text class="t m" x="1015.4" y="994.2">8</text>
<text class="t m" x="818.7" y="1037.9">CC1 (C rate)</text>
<text class="b" x="603.6" y="516.3">e</text>
<text class="t" x="614.6" y="933.8">CC3=5.2C</text>
</g>
<g id="panel-f">
<path class="l" clip-path="url(#cpf)" d="M1471.6,533.3 1474.0,536.3 1476.5,539.3 1478.9,542.2 1481.4,545.0 1483.8,547.9 1486.2,550.6 1488.7,553.4 1491.1,556.1 1493.6,558.7 1496.0,561.3 1498.5,563.9 1500.9,566.4 1503.4,568.9 1505.8,571.3 1508.3,573.8 1510.7,576.1 1513.2,578.5 1515.6,580.8 1518.0,583.1 1520.5,585.3 1522.9,587.6 1525.4,589.7 1527.8,591.9 1530.3,594.0 1532.7,596.1 1535.2,598.2 1537.6,600.2 1540.1,602.2 1542.1,603.9M1338.7,533.9 1341.1,538.8 1343.6,543.5 1346.0,548.1 1348.4,552.6 1350.9,557.0 1353.3,561.3 1355.8,565.5 1358.2,569.6 1360.7,573.6 1363.1,577.5 1365.6,581.4 1368.0,585.2 1370.5,588.9 1372.9,592.5 1375.4,596.0 1377.8,599.5 1380.2,602.9 1382.7,606.2 1385.1,609.5 1387.6,612.7 1390.0,615.8 1392.5,618.9 1394.9,622.0 1397.4,624.9 1399.8,627.8 1402.3,630.7 1404.7,633.5 1407.2,636.3 1409.6,639.0 1412.0,641.7 1414.5,644.3 1416.9,646.8 1419.4,649.4 1421.8,651.9 1424.3,654.3 1426.7,656.7 1429.2,659.1 1431.6,661.4 1434.1,663.7 1436.5,665.9 1439.0,668.1 1441.4,670.3 1443.8,672.4 1446.3,674.6 1448.7,676.6 1451.2,678.7 1453.6,680.7 1456.1,682.7 1458.5,684.6 1461.0,686.5 1463.4,688.4 1465.9,690.3 1468.3,692.1 1470.8,693.9 1473.2,695.7 1475.6,697.5 1478.1,699.2 1480.5,700.9 1483.0,702.6 1485.4,704.3 1487.9,705.9 1490.3,707.5 1491.1,708.1M1264.5,534.1 1266.9,540.8 1269.4,547.3 1271.8,553.5 1274.2,559.6 1276.7,565.5 1279.1,571.3 1281.6,576.8 1284.0,582.3 1286.5,587.5 1288.9,592.7 1291.4,597.7 1293.8,602.5 1296.3,607.3 1298.7,611.9 1301.2,616.4 1303.6,620.8 1306.0,625.1 1308.5,629.2 1310.9,633.3 1313.4,637.3 1315.8,641.2 1318.3,645.0 1320.7,648.7 1323.2,652.3 1325.6,655.9 1328.1,659.3 1330.5,662.7 1333.0,666.0 1335.4,669.3 1337.8,672.4 1340.3,675.5 1342.7,678.6 1345.2,681.6 1347.6,684.5 1350.1,687.3 1352.5,690.2 1355.0,692.9 1357.4,695.6 1359.9,698.2 1362.3,700.8 1364.8,703.4 1367.2,705.9 1369.6,708.3 1372.1,710.7 1374.5,713.1 1377.0,715.4 1379.4,717.7 1381.9,719.9 1384.3,722.1 1386.8,724.2 1389.2,726.4 1391.7,728.4 1394.1,730.5 1396.6,732.5 1399.0,734.5 1401.4,736.4 1403.9,738.3 1406.3,740.2 1408.8,742.1 1411.2,743.9 1413.7,745.7 1416.1,747.4 1418.6,749.2 1421.0,750.9 1423.5,752.6 1425.9,754.2 1428.4,755.9 1430.8,757.5 1433.2,759.1 1435.7,760.6 1438.1,762.1 1440.6,763.7 1443.0,765.2 1445.5,766.6 1447.9,768.1 1450.4,769.5 1452.8,770.9 1455.3,772.3 1457.7,773.7 1460.2,775.0 1462.6,776.3 1465.0,777.7 1467.5,778.9 1469.9,780.2 1472.4,781.5 1474.8,782.7 1477.3,784.0 1479.7,785.2 1482.2,786.4 1484.6,787.5 1487.1,788.7 1488.3,789.3M1217.2,534.3 1219.6,542.7 1221.3,548.2M1253.5,633.8 1255.9,639.0 1258.3,644.0 1260.8,648.9 1263.2,653.6 1265.7,658.2 1268.1,662.7 1270.6,667.0 1273.0,671.3 1275.5,675.4 1277.9,679.4 1280.4,683.3 1282.8,687.2 1285.3,690.9 1287.7,694.5 1290.1,698.1 1292.6,701.5 1295.0,704.9 1297.5,708.2 1299.9,711.5 1302.4,714.6 1304.8,717.7 1307.3,720.7 1309.7,723.7 1312.2,726.5 1314.6,729.4 1317.1,732.1 1319.5,734.8 1321.9,737.5 1324.4,740.0 1326.8,742.6 1329.3,745.1 1331.7,747.5 1334.2,749.9 1336.6,752.2 1339.1,754.5 1341.5,756.8 1344.0,759.0 1346.4,761.1 1348.9,763.3 1351.3,765.4 1353.7,767.4 1356.2,769.4 1358.6,771.4 1361.1,773.3 1363.5,775.2 1366.0,777.1 1368.4,778.9 1370.9,780.7 1373.3,782.5 1375.8,784.2 1378.2,786.0 1380.7,787.6 1383.1,789.3 1385.5,790.9 1388.0,792.5 1390.4,794.1 1392.9,795.7 1395.3,797.2 1397.8,798.7 1400.2,800.2 1402.7,801.6 1405.1,803.1 1407.6,804.5 1410.0,805.9 1412.5,807.2 1414.9,808.6 1417.3,809.9 1419.8,811.2 1422.2,812.5 1424.7,813.8 1427.1,815.0 1429.6,816.3 1432.0,817.5 1434.5,818.7 1436.9,819.9 1439.4,821.1 1441.8,822.2 1444.3,823.3 1446.7,824.5 1449.1,825.6 1451.6,826.7 1454.0,827.7 1456.5,828.8 1458.9,829.8 1461.4,830.9 1463.8,831.9 1466.3,832.9 1468.7,833.9 1471.2,834.9 1473.6,835.8 1476.1,836.8 1478.5,837.7 1480.9,838.7 1483.4,839.6 1485.8,840.5 1488.3,841.4 1490.7,842.3 1493.2,843.2 1495.6,844.0 1498.1,844.9 1500.5,845.7 1503.0,846.6 1505.4,847.4 1507.9,848.2 1510.3,849.0 1512.7,849.8 1515.2,850.6 1517.6,851.4 1520.1,852.2 1522.5,852.9 1525.0,853.7 1527.4,854.4 1529.9,855.1 1532.3,855.9 1534.8,856.6 1537.2,857.3 1539.7,858.0 1542.1,858.7M1184.6,535.0 1187.0,545.1 1189.5,554.8 1191.9,564.1 1194.3,572.9 1196.8,581.5 1199.2,589.7 1201.7,597.6 1204.1,605.2 1206.6,612.5 1209.0,619.5 1211.5,626.3 1213.9,632.9 1216.4,639.2 1218.8,645.3 1221.3,651.3 1223.7,657.0 1226.1,662.5 1228.6,667.9 1231.0,673.1 1233.5,678.1 1235.9,683.0 1238.4,687.7 1240.8,692.4 1243.3,696.8 1245.7,701.2 1248.2,705.4 1250.6,709.5 1253.1,713.5 1255.5,717.4 1257.9,721.1 1260.4,724.8 1262.8,728.4 1265.3,731.9 1267.7,735.3 1270.2,738.6 1272.6,741.9 1275.1,745.0 1277.5,748.1 1280.0,751.1 1282.4,754.1 1284.8,756.9 1287.3,759.7 1289.7,762.5 1292.2,765.2 1294.6,767.8 1297.1,770.4 1299.5,772.9 1302.0,775.3 1304.4,777.7 1306.9,780.1 1309.3,782.4 1311.8,784.6 1314.2,786.8 1316.6,789.0 1319.1,791.1 1321.5,793.2 1324.0,795.3 1326.4,797.3 1328.9,799.2 1331.3,801.1 1333.8,803.0 1336.2,804.9 1338.7,806.7 1341.1,808.5 1343.6,810.2 1346.0,812.0 1348.4,813.7 1350.9,815.3 1353.3,817.0 1355.8,818.6 1358.2,820.1 1360.7,821.7 1363.1,823.2 1365.6,824.7 1368.0,826.2 1370.5,827.6 1372.9,829.1 1375.4,830.5 1377.8,831.8 1380.2,833.2 1382.7,834.5 1385.1,835.8 1387.6,837.1 1390.0,838.4 1392.5,839.7 1394.9,840.9 1397.4,842.1 1399.8,843.3 1402.3,844.5 1404.7,845.7 1407.2,846.8 1409.6,847.9 1412.0,849.0 1414.5,850.1 1416.9,851.2 1419.4,852.3 1421.8,853.3 1424.3,854.4 1426.7,855.4 1429.2,856.4 1431.6,857.4 1434.1,858.4 1436.5,859.4 1439.0,860.3 1441.4,861.2 1443.8,862.2 1446.3,863.1 1448.7,864.0 1451.2,864.9 1453.6,865.8 1456.1,866.6 1458.5,867.5 1461.0,868.4 1463.4,869.2 1465.9,870.0 1468.3,870.8 1470.8,871.6 1473.2,872.4 1475.6,873.2 1478.1,874.0 1480.5,874.8 1483.0,875.5 1485.4,876.3 1487.5,876.9M1180.9,617.6 1183.3,625.6 1185.8,633.3 1188.2,640.7 1190.7,647.9 1193.1,654.7 1195.6,661.3 1198.0,667.7 1200.5,673.8 1202.9,679.7 1205.4,685.4 1207.8,690.9 1210.2,696.3 1212.7,701.5 1215.1,706.5 1217.6,711.3 1220.0,716.0 1222.5,720.5 1224.9,724.9 1227.4,729.2 1229.8,733.4 1232.3,737.4 1234.7,741.3 1237.2,745.1 1239.6,748.8 1242.0,752.5 1244.5,756.0 1246.9,759.4 1249.4,762.7 1251.8,765.9 1254.3,769.1 1256.7,772.2 1259.2,775.2 1261.6,778.1 1264.1,780.9 1266.5,783.7 1268.9,786.4 1271.4,789.1 1273.8,791.7 1276.3,794.2 1278.7,796.7 1281.2,799.1 1283.6,801.5 1286.1,803.8 1288.5,806.1 1291.0,808.3 1293.4,810.5 1295.9,812.6 1298.3,814.7 1300.7,816.7 1303.2,818.7 1305.6,820.7 1308.1,822.6 1310.5,824.5 1313.0,826.3 1315.4,828.1 1317.9,829.9 1320.3,831.6 1322.8,833.3 1325.2,835.0 1327.7,836.6 1330.1,838.3 1332.5,839.8 1335.0,841.4 1337.4,842.9 1339.9,844.4 1342.3,845.9 1344.8,847.3 1347.2,848.8 1349.7,850.2 1352.1,851.5 1354.6,852.9 1357.0,854.2 1359.5,855.5 1361.9,856.8 1364.3,858.1 1366.8,859.3 1369.2,860.6 1371.7,861.8 1374.1,863.0 1376.6,864.1 1379.0,865.3 1381.5,866.4 1383.9,867.5 1386.4,868.6 1388.8,869.7 1391.3,870.8 1393.7,871.8 1396.1,872.9 1398.6,873.9 1401.0,874.9 1403.5,875.9 1405.9,876.9 1408.4,877.8 1410.8,878.8 1413.3,879.7 1415.7,880.6 1418.2,881.5 1420.6,882.4 1423.1,883.3 1425.5,884.2 1427.9,885.1 1430.4,885.9 1432.8,886.8 1435.3,887.6 1437.7,888.4 1440.2,889.2 1442.6,890.0 1445.1,890.8 1447.5,891.6 1450.0,892.3 1452.4,893.1 1454.9,893.8 1457.3,894.6 1459.7,895.3 1462.2,896.0 1464.6,896.7 1467.1,897.4 1469.5,898.1 1472.0,898.8 1474.4,899.5 1476.9,900.2 1479.3,900.8 1481.8,901.5 1484.2,902.1 1486.7,902.8 1489.1,903.4 1491.5,904.0 1494.0,904.6 1496.4,905.3 1498.9,905.9 1501.3,906.5 1503.8,907.0 1506.2,907.6 1508.7,908.2 1511.1,908.8 1513.6,909.3 1516.0,909.9 1518.5,910.5 1520.9,911.0 1523.3,911.5 1525.8,912.1 1528.2,912.6 1530.7,913.1 1533.1,913.7 1535.6,914.2 1538.0,914.7 1540.5,915.2 1542.1,915.5M1141.8,533.4 1144.2,546.6 1146.6,559.1 1149.1,571.0 1151.5,582.3 1154.0,593.0 1156.4,603.3 1158.9,613.0 1161.3,622.3 1163.8,631.2 1166.2,639.7 1168.7,647.9 1171.1,655.7 1173.6,663.1 1176.0,670.3 1178.4,677.2 1180.9,683.9 1183.3,690.2 1185.8,696.4 1188.2,702.3 1190.7,708.0 1193.1,713.5 1195.6,718.9 1198.0,724.0 1200.5,729.0 1202.9,733.8 1205.4,738.4 1207.8,742.9 1210.2,747.3 1212.7,751.5 1215.1,755.6 1217.6,759.6 1220.0,763.5 1222.5,767.2 1224.9,770.9 1227.4,774.4 1229.8,777.8 1232.3,781.2 1234.7,784.4 1237.2,787.6 1239.6,790.7 1242.0,793.7 1244.5,796.6 1246.9,799.5 1249.4,802.3 1251.8,805.0 1254.3,807.6 1256.7,810.2 1259.2,812.7 1261.6,815.2 1264.1,817.6 1266.5,819.9 1268.9,822.2 1271.4,824.5 1273.8,826.7 1276.3,828.8 1278.7,830.9 1281.2,833.0 1283.6,835.0 1286.1,836.9 1288.5,838.9 1291.0,840.8 1293.4,842.6 1295.9,844.4 1298.3,846.2 1300.7,847.9 1303.2,849.6 1305.6,851.3 1308.1,853.0 1310.5,854.6 1313.0,856.1 1315.4,857.7 1317.9,859.2 1320.3,860.7 1322.8,862.2 1325.2,863.6 1327.7,865.0 1330.1,866.4 1332.5,867.8 1335.0,869.1 1337.4,870.4 1339.9,871.7 1342.3,873.0 1344.8,874.3 1347.2,875.5 1349.7,876.7 1352.1,877.9 1354.6,879.1 1357.0,880.2 1359.5,881.3 1361.9,882.5 1364.3,883.6 1366.8,884.6 1369.2,885.7 1371.7,886.8 1374.1,887.8 1376.6,888.8 1379.0,889.8 1381.5,890.8 1383.9,891.8 1386.4,892.7 1388.8,893.7 1391.3,894.6 1393.7,895.5 1396.1,896.4 1398.6,897.3 1401.0,898.2 1403.5,899.0 1405.9,899.9 1408.4,900.7 1410.8,901.6 1413.3,902.4 1415.7,903.2 1416.9,903.6M1499.3,925.5 1501.7,926.0 1504.2,926.5 1506.6,927.0 1509.1,927.5 1511.5,928.0 1514.0,928.5 1516.4,929.0 1518.9,929.5 1521.3,930.0 1523.8,930.5 1526.2,930.9 1528.6,931.4 1531.1,931.9 1533.5,932.3 1536.0,932.8 1538.4,933.2 1540.9,933.7 1542.1,933.9M1127.5,534.9 1129.9,549.4 1132.4,563.1 1134.8,576.0 1137.3,588.2 1139.7,599.8 1142.2,610.8 1143.0,614.3M1168.7,701.6 1171.1,708.0 1173.6,714.2 1176.0,720.2 1178.4,725.9 1180.9,731.4 1183.3,736.8 1185.8,741.9 1188.2,746.9 1190.7,751.6 1193.1,756.3 1195.6,760.8 1198.0,765.1 1200.5,769.3 1202.9,773.4 1205.4,777.3 1207.8,781.1 1210.2,784.8 1212.7,788.4 1215.1,791.9 1217.6,795.3 1220.0,798.6 1222.5,801.8 1224.9,804.9 1227.4,808.0 1229.8,810.9 1232.3,813.8 1234.7,816.6 1237.2,819.3 1239.6,822.0 1242.0,824.6 1244.5,827.1 1246.9,829.6 1249.4,832.0 1251.8,834.3 1254.3,836.6 1256.7,838.9 1259.2,841.0 1261.6,843.2 1264.1,845.3 1266.5,847.3 1268.9,849.3 1271.4,851.3 1273.8,853.2 1276.3,855.1 1278.7,856.9 1281.2,858.7 1283.6,860.4 1286.1,862.2 1288.5,863.9 1291.0,865.5 1293.4,867.1 1295.9,868.7 1298.3,870.3 1300.7,871.8 1303.2,873.3 1305.6,874.8 1308.1,876.2 1310.5,877.6 1313.0,879.0 1315.4,880.4 1317.9,881.7 1320.3,883.1 1322.8,884.4 1325.2,885.6 1327.7,886.9 1330.1,888.1 1332.5,889.3 1335.0,890.5 1337.4,891.7 1339.9,892.8 1342.3,893.9 1344.8,895.0 1347.2,896.1 1349.7,897.2 1352.1,898.3 1354.6,899.3 1357.0,900.3 1359.5,901.3 1361.9,902.3 1364.3,903.3 1366.8,904.3 1369.2,905.2 1371.7,906.1 1374.1,907.1 1376.6,908.0 1379.0,908.9 1381.5,909.7 1383.9,910.6 1386.4,911.4 1388.8,912.3 1391.3,913.1 1393.7,913.9 1396.1,914.7 1398.6,915.5 1401.0,916.3 1403.5,917.1 1405.9,917.9 1408.4,918.6 1410.8,919.4 1413.3,920.1 1415.7,920.8 1418.2,921.5 1420.6,922.2 1423.1,922.9 1425.5,923.6 1427.9,924.3 1430.4,924.9 1432.8,925.6 1435.3,926.3 1437.7,926.9 1440.2,927.5 1442.6,928.2 1445.1,928.8 1447.5,929.4 1450.0,930.0 1452.4,930.6 1454.9,931.2 1457.3,931.8 1459.7,932.3 1462.2,932.9 1464.6,933.5 1467.1,934.0 1469.5,934.6 1472.0,935.1 1474.4,935.7 1476.9,936.2 1479.3,936.7 1481.8,937.2 1484.2,937.8 1486.7,938.3 1489.1,938.8 1491.5,939.3 1494.0,939.8 1496.4,940.2 1498.9,940.7 1501.3,941.2 1503.8,941.7 1506.2,942.1 1508.7,942.6 1511.1,943.0 1513.6,943.5 1516.0,943.9 1518.5,944.4 1520.9,944.8 1523.3,945.3 1525.8,945.7 1528.2,946.1 1530.7,946.5 1533.1,946.9 1535.6,947.4 1538.0,947.8 1540.5,948.2 1542.1,948.4M1123.8,583.6 1126.3,596.5 1128.7,608.7 1131.2,620.2 1133.6,631.1 1136.0,641.5 1138.5,651.3 1140.9,660.6 1143.4,669.5 1145.8,678.0 1148.3,686.1 1150.7,693.9 1153.2,701.3 1155.6,708.4 1158.1,715.2 1160.5,721.7 1163.0,728.0 1165.4,734.0 1167.8,739.8 1170.3,745.4 1172.7,750.7 1175.2,755.9 1177.6,760.9 1180.1,765.7 1182.5,770.3 1185.0,774.8 1187.4,779.1 1189.9,783.3 1192.3,787.4 1194.8,791.3 1197.2,795.1 1199.6,798.8 1202.1,802.4 1204.5,805.9 1207.0,809.2 1209.4,812.5 1211.9,815.7 1214.3,818.8 1216.8,821.8 1219.2,824.7 1221.7,827.6 1224.1,830.3 1226.6,833.0 1229.0,835.6 1231.4,838.2 1233.9,840.7 1236.3,843.1 1238.8,845.5 1241.2,847.8 1243.7,850.1 1246.1,852.3 1248.6,854.4 1251.0,856.5 1253.5,858.6 1255.9,860.6 1258.3,862.5 1260.8,864.4 1263.2,866.3 1265.7,868.2 1268.1,869.9 1270.6,871.7 1273.0,873.4 1275.5,875.1 1277.9,876.8 1280.4,878.4 1282.8,880.0 1285.3,881.5 1287.7,883.0 1290.1,884.5 1292.6,886.0 1295.0,887.4 1297.5,888.8 1299.9,890.2 1302.4,891.6 1304.8,892.9 1307.3,894.2 1309.7,895.5 1312.2,896.7 1314.6,898.0 1317.1,899.2 1319.5,900.4 1321.9,901.5 1324.4,902.7 1326.8,903.8 1329.3,904.9 1331.7,906.0 1334.2,907.1 1336.6,908.2 1339.1,909.2 1341.5,910.2 1344.0,911.2 1346.4,912.2 1348.9,913.2 1351.3,914.2M1432.8,939.3 1435.3,939.9 1437.7,940.5 1440.2,941.1 1442.6,941.6 1445.1,942.2 1447.5,942.8 1450.0,943.3 1452.4,943.9 1454.9,944.4 1457.3,944.9 1459.7,945.5 1462.2,946.0 1464.6,946.5 1467.1,947.0 1469.5,947.5 1472.0,948.0 1474.4,948.5 1476.9,949.0 1479.3,949.5 1481.8,949.9 1484.2,950.4 1486.7,950.9 1489.1,951.3 1491.5,951.8 1492.0,951.9M1123.8,636.9 1126.3,647.8 1128.7,658.1 1131.2,667.8 1133.6,677.1 1136.0,686.0 1137.7,691.6M1169.9,775.1 1172.3,779.9 1174.8,784.4 1177.2,788.8 1179.7,793.1 1182.1,797.2 1184.6,801.2 1187.0,805.1 1189.5,808.8 1191.9,812.4 1194.3,815.9 1196.8,819.3 1199.2,822.6 1201.7,825.8 1204.1,829.0 1206.6,832.0 1209.0,834.9 1211.5,837.8 1213.9,840.5 1216.4,843.2 1218.8,845.9 1221.3,848.4 1223.7,850.9 1226.1,853.3 1228.6,855.7 1231.0,858.0 1233.5,860.3 1235.9,862.5 1238.4,864.6 1240.8,866.7 1243.3,868.7 1245.7,870.7 1248.2,872.7 1250.6,874.6 1253.1,876.5 1255.5,878.3 1257.9,880.1 1260.4,881.8 1262.8,883.5 1265.3,885.2 1267.7,886.8 1270.2,888.4 1272.6,890.0 1275.1,891.5 1277.5,893.0 1280.0,894.5 1282.4,895.9 1284.8,897.3 1287.3,898.7 1289.7,900.1 1292.2,901.4 1294.6,902.7 1297.1,904.0 1299.5,905.3 1302.0,906.5 1304.4,907.7 1306.9,908.9 1309.3,910.1 1311.8,911.3 1314.2,912.4 1316.6,913.5 1319.1,914.6 1321.5,915.7 1324.0,916.7 1326.4,917.8 1328.9,918.8 1331.3,919.8 1333.8,920.8 1336.2,921.8 1338.7,922.7 1341.1,923.6 1343.6,924.6 1346.0,925.5 1348.4,926.4 1350.9,927.3 1353.3,928.1 1355.8,929.0 1358.2,929.8 1360.7,930.7 1363.1,931.5 1365.6,932.3 1368.0,933.1 1370.5,933.9 1372.9,934.6 1375.4,935.4 1377.8,936.1 1380.2,936.9 1382.7,937.6 1385.1,938.3 1387.6,939.0 1390.0,939.7 1392.5,940.4 1394.9,941.1 1397.4,941.8 1399.8,942.4 1402.3,943.1 1404.7,943.7 1407.2,944.4 1409.6,945.0 1412.0,945.6 1414.5,946.2 1416.9,946.8 1419.4,947.4 1421.8,948.0 1424.3,948.6 1426.7,949.2 1429.2,949.7 1431.6,950.3 1434.1,950.8 1436.5,951.4 1438.5,951.8"/>
<rect class="l" x="1131.8" y="541.3" width="402.6" height="402.6"/>
<g clip-path="url(#cpf)"><circle cx="1148.6" cy="641.9" r="16.4" fill="#bf3984"/><circle cx="1182.1" cy="641.9" r="15.2" fill="#b22b8f"/><circle cx="1215.7" cy="641.9" r="13.9" fill="#a62098"/><circle cx="1249.2" cy="641.9" r="13.9" fill="#a51f99"/><circle cx="1282.8" cy="641.9" r="14.7" fill="#ba3388"/><circle cx="1316.3" cy="641.9" r="15.6" fill="#c9447a"/><circle cx="1349.9" cy="641.9" r="16.7" fill="#d8576b"/><circle cx="1433.8" cy="641.9" r="15.3" fill="#f99a3e"/><circle cx="1517.6" cy="641.9" r="15.4" fill="#f0f921"/><circle cx="1148.6" cy="725.8" r="12.1" fill="#5801a4"/><circle cx="1182.1" cy="725.8" r="11.1" fill="#3f049c"/><circle cx="1215.7" cy="725.8" r="11.1" fill="#4903a0"/><circle cx="1249.2" cy="725.8" r="11.3" fill="#7501a8"/><circle cx="1282.8" cy="725.8" r="11.9" fill="#ab2494"/><circle cx="1316.3" cy="725.8" r="14.2" fill="#d14e72"/><circle cx="1349.9" cy="725.8" r="16.2" fill="#e66c5c"/><circle cx="1433.8" cy="725.8" r="17.7" fill="#f89540"/><circle cx="1517.6" cy="725.8" r="18.1" fill="#f48948"/><circle cx="1182.1" cy="759.4" r="11.1" fill="#2f0596"/><circle cx="1215.7" cy="759.4" r="10.6" fill="#2a0593"/><circle cx="1249.2" cy="759.4" r="10.5" fill="#46039f"/><circle cx="1282.8" cy="759.4" r="11.1" fill="#8104a7"/><circle cx="1316.3" cy="759.4" r="13.7" fill="#ba3388"/><circle cx="1349.9" cy="759.4" r="15.9" fill="#e06363"/><circle cx="1433.8" cy="759.4" r="16.7" fill="#f79143"/><circle cx="1517.6" cy="759.4" r="17.8" fill="#ea7457"/><circle cx="1182.1" cy="792.9" r="12" fill="#3a049a"/><circle cx="1215.7" cy="792.9" r="10.9" fill="#2a0593"/><circle cx="1249.2" cy="792.9" r="10.7" fill="#2f0596"/><circle cx="1282.8" cy="792.9" r="11.6" fill="#4903a0"/><circle cx="1316.3" cy="792.9" r="14.2" fill="#9511a1"/><circle cx="1349.9" cy="792.9" r="16.2" fill="#d24f71"/><circle cx="1433.8" cy="792.9" r="14.9" fill="#f89540"/><circle cx="1517.6" cy="792.9" r="17.3" fill="#e97257"/><circle cx="1215.7" cy="826.5" r="12.1" fill="#4e02a2"/><circle cx="1249.2" cy="826.5" r="11.6" fill="#3a049a"/><circle cx="1282.8" cy="826.5" r="12.6" fill="#5102a3"/><circle cx="1316.3" cy="826.5" r="14.8" fill="#9613a1"/><circle cx="1349.9" cy="826.5" r="16.4" fill="#ca457a"/><circle cx="1433.8" cy="826.5" r="14.2" fill="#ee7b51"/><circle cx="1517.6" cy="826.5" r="16.8" fill="#e76f5a"/><circle cx="1249.2" cy="860.0" r="13.9" fill="#8104a7"/><circle cx="1282.8" cy="860.0" r="14" fill="#9511a1"/><circle cx="1316.3" cy="860.0" r="14.8" fill="#b12a90"/><circle cx="1349.9" cy="860.0" r="16.1" fill="#ce4b75"/><circle cx="1433.8" cy="860.0" r="15" fill="#e06363"/><circle cx="1517.6" cy="860.0" r="17.2" fill="#e66c5c"/><circle cx="1282.8" cy="893.6" r="15.6" fill="#ce4b75"/><circle cx="1316.3" cy="893.6" r="15" fill="#d35171"/><circle cx="1349.9" cy="893.6" r="15.4" fill="#d5536f"/><circle cx="1433.8" cy="893.6" r="16.3" fill="#ce4b75"/><circle cx="1517.6" cy="893.6" r="17.2" fill="#e56a5d"/><circle cx="1349.9" cy="927.1" r="16.8" fill="#ce4b75"/><circle cx="1433.8" cy="927.1" r="17.7" fill="#c5407e"/><circle cx="1517.6" cy="927.1" r="17.1" fill="#e4695e"/></g>
<g><text class="c" transform="translate(1528.2,730.0) rotate(27.4)" y="8.2">2.8</text><text class="c" transform="translate(1527.8,806.1) rotate(20.5)" y="8.2">3.0</text><text class="c" transform="translate(1235.9,591.8) rotate(68.3)" y="8.2">3.2</text><text class="c" transform="translate(1528.6,888.2) rotate(13.6)" y="8.2">3.5</text><text class="c" transform="translate(1169.1,573.7) rotate(75.5)" y="8.2">3.8</text><text class="c" transform="translate(1457.7,915.5) rotate(13.9)" y="8.2">4.0</text><text class="c" transform="translate(1154.4,658.3) rotate(72.8)" y="8.2">4.2</text><text class="c" transform="translate(1391.7,928.1) rotate(16.0)" y="8.2">4.5</text><text class="c" transform="translate(1151.9,734.3) rotate(67.9)" y="8.2">4.8</text></g>
<path class="l" d="M1182.1,943.9v15.25M1131.8,893.6h-15.25M1266.0,943.9v15.25M1131.8,809.7h-15.25M1349.9,943.9v15.25M1131.8,725.8h-15.25M1433.8,943.9v15.25M1131.8,641.9h-15.25M1517.6,943.9v15.25M1131.8,558.1h-15.25"/>
<text class="t m" x="1182.1" y="994.2">4</text>
<text class="t m" x="1266.0" y="994.2">5</text>
<text class="t m" x="1349.9" y="994.2">6</text>
<text class="t m" x="1433.8" y="994.2">7</text>
<text class="t m" x="1517.6" y="994.2">8</text>
<text class="t m" x="1333.1" y="1037.9">CC1 (C rate)</text>
<text class="b" x="1131.3" y="516.3">f</text>
<text class="t" x="1142.3" y="933.8">CC3=5.6C</text>
</g>
<g id="colorbar">
<rect x="1656" y="140.9" width="87.2" height="541.1" fill="url(#pl)"/>
<rect class="l" style="stroke-width:2.7" x="1655.4" y="144.5" width="86.4" height="540.1"/>
<text class="t" x="1757.5" y="241.1">1100</text>
<text class="t" x="1757.5" y="341.6">1000</text>
<text class="t" x="1757.5" y="442.1">900</text>
<text class="t" x="1757.5" y="542.6">800</text>
<text class="t" x="1757.5" y="643.1">700</text>
<text class="t m" x="1698.5" y="20.8">CLO-estimated</text>
<text class="t m" x="1698.5" y="52.3">cycle life</text>
<text class="t m" x="1698.5" y="83.8">after round 4</text>
<text class="t m" x="1698.5" y="115.4"><tspan font-style="italic">μ</tspan><tspan font-size="20.44px" dy="7">4, <tspan font-style="italic">i</tspan></tspan><tspan dy="-7"> (cycles)</tspan></text>
</g>
<g id="legend">
<text class="t m" x="1705.0" y="731.6">Std. dev. of</text>
<text class="t m" x="1705.0" y="763.0">cycle life</text>
<text class="t m" x="1705.0" y="794.4">after round 4,</text>
<text class="t m" x="1705.0" y="825.5"><tspan font-style="italic">σ</tspan><tspan font-size="20.44px" dy="7">4, <tspan font-style="italic">i</tspan></tspan><tspan dy="-7"> (cycles)</tspan></text>
<circle cx="1665.9" cy="870.7" r="6.6" fill="#000"/>
<text class="t" x="1724.5" y="879.5">50</text>
<circle cx="1665.9" cy="911.9" r="9.8" fill="#000"/>
<text class="t" x="1724.5" y="920.7">100</text>
<circle cx="1665.9" cy="952.7" r="13.4" fill="#000"/>
<text class="t" x="1724.5" y="961.5">200</text>
<circle cx="1665.9" cy="994.2" r="16.4" fill="#000"/>
<text class="t" x="1724.5" y="1003.0">300</text>
</g>
</svg></body></html>
